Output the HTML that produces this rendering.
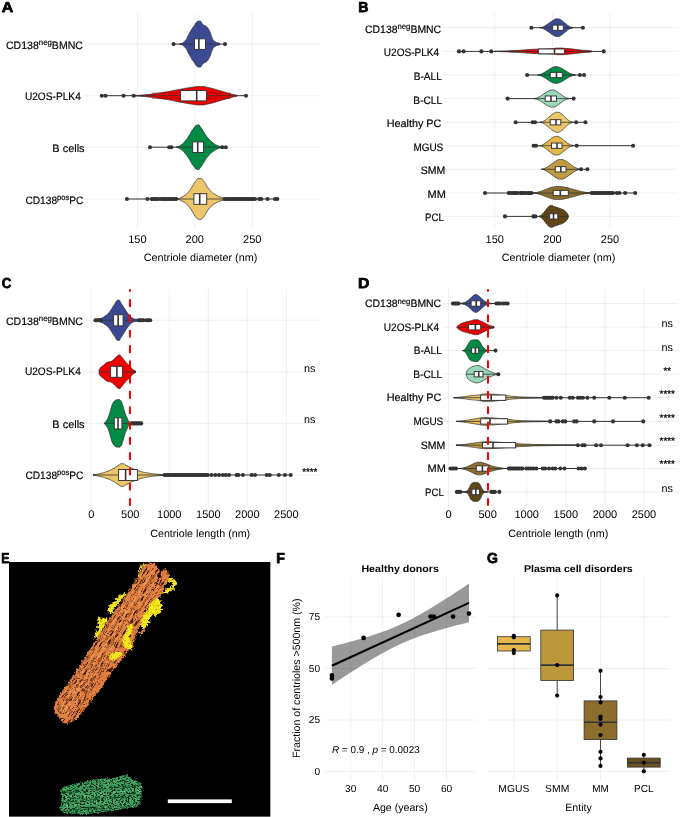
<!DOCTYPE html>
<html><head><meta charset="utf-8"><title>Figure</title>
<style>
html,body{margin:0;padding:0;background:#fff;}
body{width:685px;height:817px;overflow:hidden;font-family:"Liberation Sans",sans-serif;}
svg{display:block;position:absolute;left:0;top:0;}
svg text{font-family:"Liberation Sans",sans-serif;}
</style></head><body>
<svg width="685" height="817" viewBox="0 0 685 817" style="opacity:0.999" text-rendering="geometricPrecision">
<rect x="0" y="0" width="685" height="817" fill="#ffffff"/>

<g id="panelA">
<text transform="translate(1.65 11.80) scale(1.1053 1)" font-size="14.40px" font-weight="bold" fill="#000" stroke="#000" stroke-width="0.75" stroke-linejoin="round">A</text>
<line x1="137.40" y1="13.20" x2="137.40" y2="228.00" stroke="#ebebeb" stroke-width="0.80" />
<line x1="194.80" y1="13.20" x2="194.80" y2="228.00" stroke="#ebebeb" stroke-width="0.80" />
<line x1="252.30" y1="13.20" x2="252.30" y2="228.00" stroke="#ebebeb" stroke-width="0.80" />
<line x1="83.50" y1="44.10" x2="320.80" y2="44.10" stroke="#ebebeb" stroke-width="0.80"/>
<line x1="83.50" y1="95.70" x2="320.80" y2="95.70" stroke="#ebebeb" stroke-width="0.80"/>
<line x1="83.50" y1="147.20" x2="320.80" y2="147.20" stroke="#ebebeb" stroke-width="0.80"/>
<line x1="83.50" y1="199.00" x2="320.80" y2="199.00" stroke="#ebebeb" stroke-width="0.80"/>
<text transform="translate(5.91 48.80) scale(0.9788 1)" font-size="10.80px" font-weight="normal" fill="#000" stroke="#000" stroke-width="0.18">CD138<tspan dy="-3.56" font-size="7.99px">neg</tspan><tspan dy="3.56">BMNC</tspan></text>
<text transform="translate(24.89 100.40) scale(0.9408 1)" font-size="10.80px" font-weight="normal" fill="#000" stroke="#000" stroke-width="0.18">U2OS-PLK4</text>
<text transform="translate(52.28 151.90) scale(1.0164 1)" font-size="10.80px" font-weight="normal" fill="#000" stroke="#000" stroke-width="0.18">B cells</text>
<text transform="translate(25.43 203.70) scale(0.9421 1)" font-size="10.80px" font-weight="normal" fill="#000" stroke="#000" stroke-width="0.18">CD138<tspan dy="-3.56" font-size="7.99px">pos</tspan><tspan dy="3.56">PC</tspan></text>
<text x="137.40" y="242.60" font-size="11.00px" text-anchor="middle" font-weight="normal" fill="#000"  style="">150</text>
<text x="194.80" y="242.60" font-size="11.00px" text-anchor="middle" font-weight="normal" fill="#000"  style="">200</text>
<text x="252.30" y="242.60" font-size="11.00px" text-anchor="middle" font-weight="normal" fill="#000"  style="">250</text>
<text x="200.50" y="261.00" font-size="10.60px" text-anchor="middle" font-weight="normal" fill="#000" textLength="113.50" lengthAdjust="spacingAndGlyphs"  style="">Centriole diameter (nm)</text>
<line x1="173.50" y1="44.10" x2="225.00" y2="44.10" stroke="#333333" stroke-width="1.00"/>
<path d="M179.60 44.10 C181.37 43.07 181.83 44.23 184.90 41.00 C187.97 37.77 185.90 39.20 188.80 34.40 C191.70 29.60 190.23 31.03 193.60 26.60 C196.97 22.17 195.67 21.70 198.90 21.10 C202.13 20.50 200.67 22.83 203.30 24.80 C205.93 26.77 204.63 24.80 206.80 27.00 C208.97 29.20 208.07 27.90 209.80 31.40 C211.53 34.90 210.37 34.13 212.00 37.50 C213.63 40.87 212.07 39.30 214.70 41.50 C217.33 43.70 219.90 42.37 219.90 44.10 C219.90 45.83 217.33 44.50 214.70 46.70 C212.07 48.90 213.63 47.33 212.00 50.70 C210.37 54.07 211.53 53.30 209.80 56.80 C208.07 60.30 208.97 59.00 206.80 61.20 C204.63 63.40 205.93 61.43 203.30 63.40 C200.67 65.37 202.13 67.70 198.90 67.10 C195.67 66.50 196.97 66.03 193.60 61.60 C190.23 57.17 191.70 58.60 188.80 53.80 C185.90 49.00 187.97 50.43 184.90 47.20 C181.83 43.97 181.37 45.13 179.60 44.10 Z" fill="#3B4992" stroke="#2b2b2b" stroke-width="0.70" stroke-linejoin="round"/>
<line x1="179.60" y1="44.10" x2="219.90" y2="44.10" stroke="#333333" stroke-width="0.80"/>
<circle cx="173.50" cy="44.10" r="2.05" fill="#333333"/>
<circle cx="225.00" cy="44.10" r="2.05" fill="#333333"/>
<rect x="194.50" y="38.80" width="11.00" height="10.60" fill="#fff" stroke="#333333" stroke-width="0.95"/>
<line x1="198.90" y1="38.80" x2="198.90" y2="49.40" stroke="#333333" stroke-width="1.60"/>
<line x1="101.80" y1="95.70" x2="246.00" y2="95.70" stroke="#333333" stroke-width="1.00"/>
<path d="M133.00 95.70 C138.00 95.30 137.67 95.63 148.00 94.50 C158.33 93.37 153.67 93.97 164.00 92.30 C174.33 90.63 170.00 91.13 179.00 89.50 C188.00 87.87 183.83 88.40 191.00 87.40 C198.17 86.40 194.50 86.40 200.50 86.50 C206.50 86.60 202.50 86.30 209.00 87.70 C215.50 89.10 213.00 88.70 220.00 90.70 C227.00 92.70 224.33 92.03 230.00 93.70 C235.67 95.37 237.00 94.37 237.00 95.70 C237.00 97.03 235.67 96.03 230.00 97.70 C224.33 99.37 227.00 98.70 220.00 100.70 C213.00 102.70 215.50 102.30 209.00 103.70 C202.50 105.10 206.50 104.80 200.50 104.90 C194.50 105.00 198.17 105.00 191.00 104.00 C183.83 103.00 188.00 103.53 179.00 101.90 C170.00 100.27 174.33 100.77 164.00 99.10 C153.67 97.43 158.33 98.03 148.00 96.90 C137.67 95.77 138.00 96.10 133.00 95.70 Z" fill="#EE0000" stroke="#2b2b2b" stroke-width="0.70" stroke-linejoin="round"/>
<line x1="133.00" y1="95.70" x2="237.00" y2="95.70" stroke="#333333" stroke-width="0.80"/>
<line x1="152.00" y1="93.10" x2="231.00" y2="93.10" stroke="#8a0000" stroke-width="0.50"/>
<line x1="152.00" y1="98.30" x2="231.00" y2="98.30" stroke="#8a0000" stroke-width="0.50"/>
<circle cx="101.80" cy="95.70" r="2.05" fill="#333333"/>
<circle cx="105.50" cy="95.70" r="2.05" fill="#333333"/>
<circle cx="123.60" cy="95.70" r="2.05" fill="#333333"/>
<circle cx="133.70" cy="95.70" r="2.05" fill="#333333"/>
<circle cx="246.00" cy="95.70" r="2.05" fill="#333333"/>
<rect x="180.60" y="90.50" width="25.90" height="10.40" fill="#fff" stroke="#333333" stroke-width="0.95"/>
<line x1="196.70" y1="90.50" x2="196.70" y2="100.90" stroke="#333333" stroke-width="1.60"/>
<line x1="150.00" y1="147.20" x2="225.80" y2="147.20" stroke="#333333" stroke-width="1.00"/>
<path d="M176.30 147.20 C177.87 146.47 178.10 147.00 181.00 145.00 C183.90 143.00 182.33 144.30 185.00 141.20 C187.67 138.10 186.33 139.70 189.00 135.70 C191.67 131.70 190.17 132.77 193.00 129.20 C195.83 125.63 194.83 125.50 197.50 125.00 C200.17 124.50 198.67 124.97 201.00 127.70 C203.33 130.43 202.00 129.57 204.50 133.20 C207.00 136.83 205.67 135.40 208.50 138.60 C211.33 141.80 210.17 140.53 213.00 142.80 C215.83 145.07 214.17 143.93 217.00 145.40 C219.83 146.87 221.50 146.00 221.50 147.20 C221.50 148.40 219.83 147.53 217.00 149.00 C214.17 150.47 215.83 149.33 213.00 151.60 C210.17 153.87 211.33 152.60 208.50 155.80 C205.67 159.00 207.00 157.57 204.50 161.20 C202.00 164.83 203.33 163.97 201.00 166.70 C198.67 169.43 200.17 169.90 197.50 169.40 C194.83 168.90 195.83 168.77 193.00 165.20 C190.17 161.63 191.67 162.70 189.00 158.70 C186.33 154.70 187.67 156.30 185.00 153.20 C182.33 150.10 183.90 151.40 181.00 149.40 C178.10 147.40 177.87 147.93 176.30 147.20 Z" fill="#008B45" stroke="#2b2b2b" stroke-width="0.70" stroke-linejoin="round"/>
<line x1="176.30" y1="147.20" x2="221.50" y2="147.20" stroke="#333333" stroke-width="0.80"/>
<circle cx="150.00" cy="147.20" r="2.05" fill="#333333"/>
<circle cx="169.20" cy="147.20" r="2.05" fill="#333333"/>
<circle cx="171.40" cy="147.20" r="2.05" fill="#333333"/>
<circle cx="222.30" cy="147.20" r="2.05" fill="#333333"/>
<circle cx="225.80" cy="147.20" r="2.05" fill="#333333"/>
<rect x="192.70" y="141.90" width="10.80" height="10.60" fill="#fff" stroke="#333333" stroke-width="0.95"/>
<line x1="197.70" y1="141.90" x2="197.70" y2="152.50" stroke="#333333" stroke-width="1.60"/>
<line x1="126.90" y1="199.00" x2="277.30" y2="199.00" stroke="#333333" stroke-width="1.00"/>
<path d="M177.60 199.00 C179.40 198.13 179.70 198.40 183.00 196.40 C186.30 194.40 184.67 195.87 187.50 193.00 C190.33 190.13 188.83 191.67 191.50 187.80 C194.17 183.93 192.83 184.47 195.50 181.40 C198.17 178.33 196.83 178.73 199.50 178.60 C202.17 178.47 201.00 178.40 203.50 181.00 C206.00 183.60 204.50 182.93 207.00 186.40 C209.50 189.87 208.00 188.53 211.00 191.40 C214.00 194.27 212.67 193.03 216.00 195.00 C219.33 196.97 217.90 195.97 221.00 197.30 C224.10 198.63 225.30 197.87 225.30 199.00 C225.30 200.13 224.10 199.37 221.00 200.70 C217.90 202.03 219.33 201.03 216.00 203.00 C212.67 204.97 214.00 203.73 211.00 206.60 C208.00 209.47 209.50 208.13 207.00 211.60 C204.50 215.07 206.00 214.40 203.50 217.00 C201.00 219.60 202.17 219.53 199.50 219.40 C196.83 219.27 198.17 219.67 195.50 216.60 C192.83 213.53 194.17 214.07 191.50 210.20 C188.83 206.33 190.33 207.87 187.50 205.00 C184.67 202.13 186.30 203.60 183.00 201.60 C179.70 199.60 179.40 199.87 177.60 199.00 Z" fill="#EDC669" stroke="#2b2b2b" stroke-width="0.70" stroke-linejoin="round"/>
<line x1="177.60" y1="199.00" x2="225.30" y2="199.00" stroke="#333333" stroke-width="0.80"/>
<circle cx="126.90" cy="199.00" r="2.05" fill="#333333"/>
<circle cx="147.40" cy="199.00" r="2.05" fill="#333333"/>
<circle cx="151.60" cy="199.00" r="2.05" fill="#333333"/>
<circle cx="153.30" cy="199.00" r="2.05" fill="#333333"/>
<circle cx="155.00" cy="199.00" r="2.05" fill="#333333"/>
<circle cx="156.70" cy="199.00" r="2.05" fill="#333333"/>
<circle cx="158.40" cy="199.00" r="2.05" fill="#333333"/>
<circle cx="161.20" cy="199.00" r="2.05" fill="#333333"/>
<circle cx="162.88" cy="199.00" r="2.05" fill="#333333"/>
<circle cx="164.56" cy="199.00" r="2.05" fill="#333333"/>
<circle cx="166.23" cy="199.00" r="2.05" fill="#333333"/>
<circle cx="167.91" cy="199.00" r="2.05" fill="#333333"/>
<circle cx="169.59" cy="199.00" r="2.05" fill="#333333"/>
<circle cx="171.27" cy="199.00" r="2.05" fill="#333333"/>
<circle cx="172.94" cy="199.00" r="2.05" fill="#333333"/>
<circle cx="174.62" cy="199.00" r="2.05" fill="#333333"/>
<circle cx="176.30" cy="199.00" r="2.05" fill="#333333"/>
<circle cx="224.50" cy="199.00" r="2.05" fill="#333333"/>
<circle cx="226.11" cy="199.00" r="2.05" fill="#333333"/>
<circle cx="227.71" cy="199.00" r="2.05" fill="#333333"/>
<circle cx="229.32" cy="199.00" r="2.05" fill="#333333"/>
<circle cx="230.92" cy="199.00" r="2.05" fill="#333333"/>
<circle cx="232.53" cy="199.00" r="2.05" fill="#333333"/>
<circle cx="234.13" cy="199.00" r="2.05" fill="#333333"/>
<circle cx="235.74" cy="199.00" r="2.05" fill="#333333"/>
<circle cx="237.34" cy="199.00" r="2.05" fill="#333333"/>
<circle cx="238.95" cy="199.00" r="2.05" fill="#333333"/>
<circle cx="240.55" cy="199.00" r="2.05" fill="#333333"/>
<circle cx="242.16" cy="199.00" r="2.05" fill="#333333"/>
<circle cx="243.76" cy="199.00" r="2.05" fill="#333333"/>
<circle cx="245.37" cy="199.00" r="2.05" fill="#333333"/>
<circle cx="246.97" cy="199.00" r="2.05" fill="#333333"/>
<circle cx="248.58" cy="199.00" r="2.05" fill="#333333"/>
<circle cx="250.18" cy="199.00" r="2.05" fill="#333333"/>
<circle cx="251.79" cy="199.00" r="2.05" fill="#333333"/>
<circle cx="253.39" cy="199.00" r="2.05" fill="#333333"/>
<circle cx="255.00" cy="199.00" r="2.05" fill="#333333"/>
<circle cx="259.20" cy="199.00" r="2.05" fill="#333333"/>
<circle cx="261.30" cy="199.00" r="2.05" fill="#333333"/>
<circle cx="267.50" cy="199.00" r="2.05" fill="#333333"/>
<circle cx="275.00" cy="199.00" r="2.05" fill="#333333"/>
<circle cx="277.30" cy="199.00" r="2.05" fill="#333333"/>
<rect x="193.90" y="193.70" width="12.80" height="10.60" fill="#fff" stroke="#333333" stroke-width="0.95"/>
<line x1="199.70" y1="193.70" x2="199.70" y2="204.30" stroke="#333333" stroke-width="1.60"/>
</g>
<g id="panelB">
<text transform="translate(358.22 11.90) scale(0.9829 1)" font-size="14.40px" font-weight="bold" fill="#000" stroke="#000" stroke-width="0.75" stroke-linejoin="round">B</text>
<line x1="494.80" y1="13.80" x2="494.80" y2="228.00" stroke="#ebebeb" stroke-width="0.80" />
<line x1="552.50" y1="13.80" x2="552.50" y2="228.00" stroke="#ebebeb" stroke-width="0.80" />
<line x1="610.00" y1="13.80" x2="610.00" y2="228.00" stroke="#ebebeb" stroke-width="0.80" />
<line x1="443.00" y1="27.70" x2="678.40" y2="27.70" stroke="#ebebeb" stroke-width="0.80"/>
<line x1="443.00" y1="51.40" x2="678.40" y2="51.40" stroke="#ebebeb" stroke-width="0.80"/>
<line x1="443.00" y1="75.00" x2="678.40" y2="75.00" stroke="#ebebeb" stroke-width="0.80"/>
<line x1="443.00" y1="98.60" x2="678.40" y2="98.60" stroke="#ebebeb" stroke-width="0.80"/>
<line x1="443.00" y1="122.30" x2="678.40" y2="122.30" stroke="#ebebeb" stroke-width="0.80"/>
<line x1="443.00" y1="145.70" x2="678.40" y2="145.70" stroke="#ebebeb" stroke-width="0.80"/>
<line x1="443.00" y1="169.30" x2="678.40" y2="169.30" stroke="#ebebeb" stroke-width="0.80"/>
<line x1="443.00" y1="193.00" x2="678.40" y2="193.00" stroke="#ebebeb" stroke-width="0.80"/>
<line x1="443.00" y1="216.40" x2="678.40" y2="216.40" stroke="#ebebeb" stroke-width="0.80"/>
<text transform="translate(365.02 32.70) scale(0.9672 1)" font-size="10.80px" font-weight="normal" fill="#000" stroke="#000" stroke-width="0.18">CD138<tspan dy="-3.56" font-size="7.99px">neg</tspan><tspan dy="3.56">BMNC</tspan></text>
<text transform="translate(383.80 56.40) scale(0.9322 1)" font-size="10.80px" font-weight="normal" fill="#000" stroke="#000" stroke-width="0.18">U2OS-PLK4</text>
<text transform="translate(413.77 80.00) scale(0.9322 1)" font-size="10.80px" font-weight="normal" fill="#000" stroke="#000" stroke-width="0.18">B-ALL</text>
<text transform="translate(413.36 103.60) scale(0.9402 1)" font-size="10.80px" font-weight="normal" fill="#000" stroke="#000" stroke-width="0.18">B-CLL</text>
<text transform="translate(386.70 127.30) scale(1.0009 1)" font-size="10.80px" font-weight="normal" fill="#000" stroke="#000" stroke-width="0.18">Healthy PC</text>
<text transform="translate(413.38 150.70) scale(0.9226 1)" font-size="10.80px" font-weight="normal" fill="#000" stroke="#000" stroke-width="0.18">MGUS</text>
<text transform="translate(420.81 174.30) scale(0.9726 1)" font-size="10.80px" font-weight="normal" fill="#000" stroke="#000" stroke-width="0.18">SMM</text>
<text transform="translate(427.58 198.00) scale(1.0154 1)" font-size="10.80px" font-weight="normal" fill="#000" stroke="#000" stroke-width="0.18">MM</text>
<text transform="translate(425.11 221.40) scale(0.8861 1)" font-size="10.80px" font-weight="normal" fill="#000" stroke="#000" stroke-width="0.18">PCL</text>
<text x="494.80" y="242.60" font-size="11.00px" text-anchor="middle" font-weight="normal" fill="#000"  style="">150</text>
<text x="552.50" y="242.60" font-size="11.00px" text-anchor="middle" font-weight="normal" fill="#000"  style="">200</text>
<text x="610.00" y="242.60" font-size="11.00px" text-anchor="middle" font-weight="normal" fill="#000"  style="">250</text>
<text x="558.50" y="261.00" font-size="10.60px" text-anchor="middle" font-weight="normal" fill="#000" textLength="113.50" lengthAdjust="spacingAndGlyphs"  style="">Centriole diameter (nm)</text>
<line x1="531.40" y1="27.70" x2="582.90" y2="27.70" stroke="#333333" stroke-width="1.00"/>
<path d="M540.00 27.70 C541.28 27.29 540.93 27.93 543.85 26.47 C546.77 25.00 545.48 25.47 548.75 23.30 C552.02 21.13 550.73 21.42 553.65 19.96 C556.57 18.49 555.09 18.90 557.50 18.90 C559.91 18.90 558.32 18.49 560.87 19.96 C563.42 21.42 562.29 21.13 565.15 23.30 C568.01 25.47 566.88 25.00 569.43 26.47 C571.98 27.93 572.80 26.88 572.80 27.70 C572.80 28.52 571.98 27.47 569.43 28.93 C566.88 30.40 568.01 29.93 565.15 32.10 C562.29 34.27 563.42 33.98 560.87 35.44 C558.32 36.91 559.91 36.50 557.50 36.50 C555.09 36.50 556.57 36.91 553.65 35.44 C550.73 33.98 552.02 34.27 548.75 32.10 C545.48 29.93 546.77 30.40 543.85 28.93 C540.93 27.47 541.28 28.11 540.00 27.70 Z" fill="#3B4992" stroke="#2b2b2b" stroke-width="0.70" stroke-linejoin="round"/>
<line x1="540.00" y1="27.70" x2="572.80" y2="27.70" stroke="#333333" stroke-width="0.80"/>
<circle cx="531.40" cy="27.70" r="2.05" fill="#333333"/>
<circle cx="582.90" cy="27.70" r="2.05" fill="#333333"/>
<rect x="552.70" y="25.05" width="10.60" height="5.30" fill="#fff" stroke="#333333" stroke-width="0.95"/>
<line x1="557.80" y1="25.05" x2="557.80" y2="30.35" stroke="#333333" stroke-width="1.60"/>
<line x1="459.00" y1="51.40" x2="603.70" y2="51.40" stroke="#333333" stroke-width="1.00"/>
<path d="M495.00 51.40 C501.67 51.10 501.67 51.23 515.00 50.50 C528.33 49.77 523.33 49.78 535.00 49.20 C546.67 48.62 542.33 49.12 550.00 48.75 C557.67 48.38 552.00 48.15 558.00 48.10 C564.00 48.05 560.67 48.00 568.00 48.60 C575.33 49.20 572.00 48.97 580.00 49.90 C588.00 50.83 592.00 50.40 592.00 51.40 C592.00 52.40 588.00 51.97 580.00 52.90 C572.00 53.83 575.33 53.60 568.00 54.20 C560.67 54.80 564.00 54.75 558.00 54.70 C552.00 54.65 557.67 54.42 550.00 54.05 C542.33 53.68 546.67 54.18 535.00 53.60 C523.33 53.02 528.33 53.03 515.00 52.30 C501.67 51.57 501.67 51.70 495.00 51.40 Z" fill="#EE0000" stroke="#2b2b2b" stroke-width="0.70" stroke-linejoin="round"/>
<line x1="495.00" y1="51.40" x2="592.00" y2="51.40" stroke="#333333" stroke-width="0.80"/>
<circle cx="459.00" cy="51.40" r="2.05" fill="#333333"/>
<circle cx="463.60" cy="51.40" r="2.05" fill="#333333"/>
<circle cx="481.40" cy="51.40" r="2.05" fill="#333333"/>
<circle cx="491.20" cy="51.40" r="2.05" fill="#333333"/>
<circle cx="603.70" cy="51.40" r="2.05" fill="#333333"/>
<rect x="538.40" y="49.00" width="26.10" height="4.80" fill="#fff" stroke="#333333" stroke-width="0.95"/>
<line x1="554.50" y1="49.00" x2="554.50" y2="53.80" stroke="#333333" stroke-width="1.60"/>
<line x1="527.10" y1="75.00" x2="584.10" y2="75.00" stroke="#333333" stroke-width="1.00"/>
<path d="M537.70 75.00 C539.04 74.61 538.68 75.22 541.73 73.84 C544.78 72.45 543.43 72.90 546.85 70.85 C550.27 68.80 548.92 69.08 551.97 67.70 C555.02 66.31 553.24 66.70 556.00 66.70 C558.76 66.70 557.03 66.31 560.27 67.70 C563.50 69.08 562.08 68.80 565.70 70.85 C569.32 72.90 567.90 72.45 571.13 73.84 C574.37 75.22 575.40 74.23 575.40 75.00 C575.40 75.77 574.37 74.78 571.13 76.16 C567.90 77.55 569.32 77.10 565.70 79.15 C562.08 81.20 563.50 80.92 560.27 82.30 C557.03 83.69 558.76 83.30 556.00 83.30 C553.24 83.30 555.02 83.69 551.97 82.30 C548.92 80.92 550.27 81.20 546.85 79.15 C543.43 77.10 544.78 77.55 541.73 76.16 C538.68 74.78 539.04 75.39 537.70 75.00 Z" fill="#008B45" stroke="#2b2b2b" stroke-width="0.70" stroke-linejoin="round"/>
<line x1="537.70" y1="75.00" x2="575.40" y2="75.00" stroke="#333333" stroke-width="0.80"/>
<circle cx="527.10" cy="75.00" r="2.05" fill="#333333"/>
<circle cx="579.90" cy="75.00" r="2.05" fill="#333333"/>
<circle cx="584.10" cy="75.00" r="2.05" fill="#333333"/>
<rect x="550.20" y="72.35" width="12.10" height="5.30" fill="#fff" stroke="#333333" stroke-width="0.95"/>
<line x1="556.50" y1="72.35" x2="556.50" y2="77.65" stroke="#333333" stroke-width="1.60"/>
<line x1="507.60" y1="98.60" x2="574.10" y2="98.60" stroke="#333333" stroke-width="1.00"/>
<path d="M533.90 98.60 C535.26 98.20 534.89 98.83 537.99 97.41 C541.09 95.99 539.73 96.45 543.20 94.35 C546.67 92.25 545.31 92.54 548.41 91.12 C551.51 89.70 549.92 90.10 552.50 90.10 C555.08 90.10 553.39 89.70 556.15 91.12 C558.92 92.54 557.70 92.25 560.80 94.35 C563.90 96.45 562.68 95.99 565.45 97.41 C568.21 98.83 569.10 97.81 569.10 98.60 C569.10 99.39 568.21 98.37 565.45 99.79 C562.68 101.21 563.90 100.75 560.80 102.85 C557.70 104.95 558.92 104.66 556.15 106.08 C553.39 107.50 555.08 107.10 552.50 107.10 C549.92 107.10 551.51 107.50 548.41 106.08 C545.31 104.66 546.67 104.95 543.20 102.85 C539.73 100.75 541.09 101.21 537.99 99.79 C534.89 98.37 535.26 99.00 533.90 98.60 Z" fill="#99D8B8" stroke="#2b2b2b" stroke-width="0.70" stroke-linejoin="round"/>
<line x1="533.90" y1="98.60" x2="569.10" y2="98.60" stroke="#333333" stroke-width="0.80"/>
<circle cx="507.60" cy="98.60" r="2.05" fill="#333333"/>
<circle cx="573.60" cy="98.60" r="2.05" fill="#333333"/>
<rect x="545.20" y="95.95" width="11.30" height="5.30" fill="#fff" stroke="#333333" stroke-width="0.95"/>
<line x1="551.00" y1="95.95" x2="551.00" y2="101.25" stroke="#333333" stroke-width="1.60"/>
<line x1="515.60" y1="122.30" x2="585.40" y2="122.30" stroke="#333333" stroke-width="1.00"/>
<path d="M540.20 122.30 C541.47 121.83 541.12 122.57 544.01 120.90 C546.89 119.23 545.62 119.77 548.85 117.30 C552.08 114.83 550.81 115.17 553.69 113.50 C556.58 111.83 555.11 112.30 557.50 112.30 C559.89 112.30 558.32 111.83 560.87 113.50 C563.42 115.17 562.29 114.83 565.15 117.30 C568.01 119.77 566.88 119.23 569.43 120.90 C571.98 122.57 572.80 121.37 572.80 122.30 C572.80 123.23 571.98 122.03 569.43 123.70 C566.88 125.37 568.01 124.83 565.15 127.30 C562.29 129.77 563.42 129.43 560.87 131.10 C558.32 132.77 559.89 132.30 557.50 132.30 C555.11 132.30 556.58 132.77 553.69 131.10 C550.81 129.43 552.08 129.77 548.85 127.30 C545.62 124.83 546.89 125.37 544.01 123.70 C541.12 122.03 541.47 122.77 540.20 122.30 Z" fill="#EDC669" stroke="#2b2b2b" stroke-width="0.70" stroke-linejoin="round"/>
<line x1="540.20" y1="122.30" x2="572.80" y2="122.30" stroke="#333333" stroke-width="0.80"/>
<circle cx="515.60" cy="122.30" r="2.05" fill="#333333"/>
<circle cx="532.60" cy="122.30" r="2.05" fill="#333333"/>
<circle cx="535.00" cy="122.30" r="2.05" fill="#333333"/>
<circle cx="576.10" cy="122.30" r="2.05" fill="#333333"/>
<circle cx="585.40" cy="122.30" r="2.05" fill="#333333"/>
<rect x="550.20" y="119.65" width="10.60" height="5.30" fill="#fff" stroke="#333333" stroke-width="0.95"/>
<line x1="556.00" y1="119.65" x2="556.00" y2="124.95" stroke="#333333" stroke-width="1.60"/>
<line x1="533.60" y1="145.70" x2="633.10" y2="145.70" stroke="#333333" stroke-width="1.00"/>
<path d="M539.70 145.70 C540.93 145.27 540.60 145.95 543.40 144.40 C546.20 142.85 544.96 143.34 548.10 141.05 C551.24 138.76 550.00 139.07 552.80 137.52 C555.60 135.97 554.04 136.40 556.50 136.40 C558.96 136.40 557.40 135.97 560.20 137.52 C563.00 139.07 561.76 138.76 564.90 141.05 C568.04 143.34 566.80 142.85 569.60 144.40 C572.40 145.95 573.30 144.83 573.30 145.70 C573.30 146.57 572.40 145.45 569.60 147.00 C566.80 148.55 568.04 148.06 564.90 150.35 C561.76 152.64 563.00 152.33 560.20 153.88 C557.40 155.43 558.96 155.00 556.50 155.00 C554.04 155.00 555.60 155.43 552.80 153.88 C550.00 152.33 551.24 152.64 548.10 150.35 C544.96 148.06 546.20 148.55 543.40 147.00 C540.60 145.45 540.93 146.13 539.70 145.70 Z" fill="#E6B84B" stroke="#2b2b2b" stroke-width="0.70" stroke-linejoin="round"/>
<line x1="539.70" y1="145.70" x2="573.30" y2="145.70" stroke="#333333" stroke-width="0.80"/>
<circle cx="533.60" cy="145.70" r="2.05" fill="#333333"/>
<circle cx="536.00" cy="145.70" r="2.05" fill="#333333"/>
<circle cx="576.60" cy="145.70" r="2.05" fill="#333333"/>
<circle cx="633.10" cy="145.70" r="2.05" fill="#333333"/>
<rect x="551.50" y="143.05" width="10.50" height="5.30" fill="#fff" stroke="#333333" stroke-width="0.95"/>
<line x1="557.00" y1="143.05" x2="557.00" y2="148.35" stroke="#333333" stroke-width="1.60"/>
<line x1="541.40" y1="169.30" x2="587.40" y2="169.30" stroke="#333333" stroke-width="1.00"/>
<path d="M541.40 169.30 C542.82 168.84 542.43 169.56 545.67 167.93 C548.90 166.29 547.48 166.82 551.10 164.40 C554.72 161.98 553.30 162.31 556.53 160.68 C559.77 159.04 557.94 159.50 560.80 159.50 C563.66 159.50 561.85 159.04 565.11 160.68 C568.38 162.31 566.94 161.98 570.60 164.40 C574.26 166.82 572.82 166.29 576.09 167.93 C579.35 169.56 580.40 168.39 580.40 169.30 C580.40 170.21 579.35 169.04 576.09 170.67 C572.82 172.31 574.26 171.78 570.60 174.20 C566.94 176.62 568.38 176.29 565.11 177.92 C561.85 179.56 563.66 179.10 560.80 179.10 C557.94 179.10 559.77 179.56 556.53 177.92 C553.30 176.29 554.72 176.62 551.10 174.20 C547.48 171.78 548.90 172.31 545.67 170.67 C542.43 169.04 542.82 169.76 541.40 169.30 Z" fill="#BF9C41" stroke="#2b2b2b" stroke-width="0.70" stroke-linejoin="round"/>
<line x1="541.40" y1="169.30" x2="580.40" y2="169.30" stroke="#333333" stroke-width="0.80"/>
<circle cx="581.10" cy="169.30" r="2.05" fill="#333333"/>
<circle cx="587.40" cy="169.30" r="2.05" fill="#333333"/>
<rect x="555.30" y="166.65" width="10.70" height="5.30" fill="#fff" stroke="#333333" stroke-width="0.95"/>
<line x1="560.80" y1="166.65" x2="560.80" y2="171.95" stroke="#333333" stroke-width="1.60"/>
<line x1="485.00" y1="193.00" x2="635.20" y2="193.00" stroke="#333333" stroke-width="1.00"/>
<path d="M532.60 193.00 C534.43 192.70 533.93 193.17 538.08 192.09 C542.23 191.01 540.40 191.35 545.05 189.75 C549.70 188.15 547.87 188.36 552.02 187.28 C556.17 186.20 553.17 186.50 557.50 186.50 C561.83 186.50 559.32 186.20 565.02 187.28 C570.72 188.36 568.22 188.15 574.60 189.75 C580.98 191.35 578.48 191.01 584.18 192.09 C589.88 193.17 591.70 192.39 591.70 193.00 C591.70 193.61 589.88 192.83 584.18 193.91 C578.48 194.99 580.98 194.65 574.60 196.25 C568.22 197.85 570.72 197.64 565.02 198.72 C559.32 199.80 561.83 199.50 557.50 199.50 C553.17 199.50 556.17 199.80 552.02 198.72 C547.87 197.64 549.70 197.85 545.05 196.25 C540.40 194.65 542.23 194.99 538.08 193.91 C533.93 192.83 534.43 193.30 532.60 193.00 Z" fill="#8E6F2D" stroke="#2b2b2b" stroke-width="0.70" stroke-linejoin="round"/>
<line x1="532.60" y1="193.00" x2="591.70" y2="193.00" stroke="#333333" stroke-width="0.80"/>
<circle cx="485.00" cy="193.00" r="2.05" fill="#333333"/>
<circle cx="508.80" cy="193.00" r="2.05" fill="#333333"/>
<circle cx="510.54" cy="193.00" r="2.05" fill="#333333"/>
<circle cx="512.28" cy="193.00" r="2.05" fill="#333333"/>
<circle cx="514.02" cy="193.00" r="2.05" fill="#333333"/>
<circle cx="515.76" cy="193.00" r="2.05" fill="#333333"/>
<circle cx="517.50" cy="193.00" r="2.05" fill="#333333"/>
<circle cx="520.40" cy="193.00" r="2.05" fill="#333333"/>
<circle cx="521.87" cy="193.00" r="2.05" fill="#333333"/>
<circle cx="523.33" cy="193.00" r="2.05" fill="#333333"/>
<circle cx="524.80" cy="193.00" r="2.05" fill="#333333"/>
<circle cx="527.20" cy="193.00" r="2.05" fill="#333333"/>
<circle cx="528.60" cy="193.00" r="2.05" fill="#333333"/>
<circle cx="530.00" cy="193.00" r="2.05" fill="#333333"/>
<circle cx="531.40" cy="193.00" r="2.05" fill="#333333"/>
<circle cx="591.70" cy="193.00" r="2.05" fill="#333333"/>
<circle cx="593.34" cy="193.00" r="2.05" fill="#333333"/>
<circle cx="594.98" cy="193.00" r="2.05" fill="#333333"/>
<circle cx="596.62" cy="193.00" r="2.05" fill="#333333"/>
<circle cx="598.25" cy="193.00" r="2.05" fill="#333333"/>
<circle cx="599.89" cy="193.00" r="2.05" fill="#333333"/>
<circle cx="601.53" cy="193.00" r="2.05" fill="#333333"/>
<circle cx="603.17" cy="193.00" r="2.05" fill="#333333"/>
<circle cx="604.81" cy="193.00" r="2.05" fill="#333333"/>
<circle cx="606.45" cy="193.00" r="2.05" fill="#333333"/>
<circle cx="608.08" cy="193.00" r="2.05" fill="#333333"/>
<circle cx="609.72" cy="193.00" r="2.05" fill="#333333"/>
<circle cx="611.36" cy="193.00" r="2.05" fill="#333333"/>
<circle cx="613.00" cy="193.00" r="2.05" fill="#333333"/>
<circle cx="616.80" cy="193.00" r="2.05" fill="#333333"/>
<circle cx="619.30" cy="193.00" r="2.05" fill="#333333"/>
<circle cx="625.10" cy="193.00" r="2.05" fill="#333333"/>
<circle cx="635.20" cy="193.00" r="2.05" fill="#333333"/>
<rect x="553.20" y="190.35" width="15.10" height="5.30" fill="#fff" stroke="#333333" stroke-width="0.95"/>
<line x1="560.30" y1="190.35" x2="560.30" y2="195.65" stroke="#333333" stroke-width="1.60"/>
<line x1="505.00" y1="216.40" x2="568.30" y2="216.40" stroke="#333333" stroke-width="1.00"/>
<path d="M538.90 216.40 C539.93 215.73 539.97 216.23 542.00 214.40 C544.03 212.57 543.00 213.23 545.00 210.90 C547.00 208.57 546.00 209.17 548.00 207.40 C550.00 205.63 548.83 205.87 551.00 205.60 C553.17 205.33 552.17 205.87 554.50 206.60 C556.83 207.33 555.50 206.93 558.00 207.80 C560.50 208.67 559.50 208.00 562.00 209.20 C564.50 210.40 563.63 209.80 565.50 211.40 C567.37 213.00 566.67 212.33 567.60 214.00 C568.53 215.67 568.30 214.80 568.30 216.40 C568.30 218.00 568.53 217.13 567.60 218.80 C566.67 220.47 567.37 219.80 565.50 221.40 C563.63 223.00 564.50 222.40 562.00 223.60 C559.50 224.80 560.50 224.13 558.00 225.00 C555.50 225.87 556.83 225.47 554.50 226.20 C552.17 226.93 553.17 227.47 551.00 227.20 C548.83 226.93 550.00 227.17 548.00 225.40 C546.00 223.63 547.00 224.23 545.00 221.90 C543.00 219.57 544.03 220.23 542.00 218.40 C539.97 216.57 539.93 217.07 538.90 216.40 Z" fill="#5F4618" stroke="#2b2b2b" stroke-width="0.70" stroke-linejoin="round"/>
<line x1="538.90" y1="216.40" x2="568.30" y2="216.40" stroke="#333333" stroke-width="0.80"/>
<circle cx="505.00" cy="216.40" r="2.05" fill="#333333"/>
<circle cx="533.40" cy="216.40" r="2.05" fill="#333333"/>
<circle cx="535.40" cy="216.40" r="2.05" fill="#333333"/>
<rect x="549.70" y="213.75" width="8.10" height="5.30" fill="#fff" stroke="#333333" stroke-width="0.95"/>
<line x1="553.50" y1="213.75" x2="553.50" y2="219.05" stroke="#333333" stroke-width="1.60"/>
</g>
<g id="panelC">
<text transform="translate(1.74 287.70) scale(0.9263 1)" font-size="14.40px" font-weight="bold" fill="#000" stroke="#000" stroke-width="0.75" stroke-linejoin="round">C</text>
<line x1="91.20" y1="289.10" x2="91.20" y2="505.80" stroke="#ebebeb" stroke-width="0.80" />
<line x1="169.26" y1="289.10" x2="169.26" y2="505.80" stroke="#ebebeb" stroke-width="0.80" />
<line x1="208.29" y1="289.10" x2="208.29" y2="505.80" stroke="#ebebeb" stroke-width="0.80" />
<line x1="247.32" y1="289.10" x2="247.32" y2="505.80" stroke="#ebebeb" stroke-width="0.80" />
<line x1="286.35" y1="289.10" x2="286.35" y2="505.80" stroke="#ebebeb" stroke-width="0.80" />
<line x1="130.23" y1="289.10" x2="130.23" y2="505.80" stroke="#ebebeb" stroke-width="0.80" />
<line x1="83.50" y1="320.30" x2="320.80" y2="320.30" stroke="#ebebeb" stroke-width="0.80"/>
<line x1="83.50" y1="371.80" x2="320.80" y2="371.80" stroke="#ebebeb" stroke-width="0.80"/>
<line x1="83.50" y1="423.40" x2="320.80" y2="423.40" stroke="#ebebeb" stroke-width="0.80"/>
<line x1="83.50" y1="475.00" x2="320.80" y2="475.00" stroke="#ebebeb" stroke-width="0.80"/>
<text transform="translate(5.91 325.00) scale(0.9788 1)" font-size="10.80px" font-weight="normal" fill="#000" stroke="#000" stroke-width="0.18">CD138<tspan dy="-3.56" font-size="7.99px">neg</tspan><tspan dy="3.56">BMNC</tspan></text>
<text transform="translate(24.89 374.70) scale(0.9408 1)" font-size="10.80px" font-weight="normal" fill="#000" stroke="#000" stroke-width="0.18">U2OS-PLK4</text>
<text transform="translate(52.28 428.10) scale(1.0164 1)" font-size="10.80px" font-weight="normal" fill="#000" stroke="#000" stroke-width="0.18">B cells</text>
<text transform="translate(25.43 478.50) scale(0.9421 1)" font-size="10.80px" font-weight="normal" fill="#000" stroke="#000" stroke-width="0.18">CD138<tspan dy="-3.56" font-size="7.99px">pos</tspan><tspan dy="3.56">PC</tspan></text>
<text x="91.20" y="518.40" font-size="11.00px" text-anchor="middle" font-weight="normal" fill="#000"  style="">0</text>
<text x="130.23" y="518.40" font-size="11.00px" text-anchor="middle" font-weight="normal" fill="#000"  style="">500</text>
<text x="169.26" y="518.40" font-size="11.00px" text-anchor="middle" font-weight="normal" fill="#000"  style="">1000</text>
<text x="208.29" y="518.40" font-size="11.00px" text-anchor="middle" font-weight="normal" fill="#000"  style="">1500</text>
<text x="247.32" y="518.40" font-size="11.00px" text-anchor="middle" font-weight="normal" fill="#000"  style="">2000</text>
<text x="286.35" y="518.40" font-size="11.00px" text-anchor="middle" font-weight="normal" fill="#000"  style="">2500</text>
<text x="200.20" y="536.70" font-size="10.60px" text-anchor="middle" font-weight="normal" fill="#000" textLength="100.00" lengthAdjust="spacingAndGlyphs"  style="">Centriole length (nm)</text>
<line x1="95.50" y1="320.30" x2="150.70" y2="320.30" stroke="#333333" stroke-width="1.00"/>
<path d="M94.20 320.30 C96.13 319.77 96.40 320.10 100.00 318.70 C103.60 317.30 101.83 318.37 105.00 316.10 C108.17 313.83 106.57 315.43 109.50 311.90 C112.43 308.37 110.97 309.40 113.80 305.50 C116.63 301.60 115.43 300.73 118.00 300.20 C120.57 299.67 119.17 300.87 121.50 303.90 C123.83 306.93 122.67 305.83 125.00 309.30 C127.33 312.77 126.17 311.43 128.50 314.30 C130.83 317.17 128.83 315.90 132.00 317.90 C135.17 319.90 138.00 318.70 138.00 320.30 C138.00 321.90 135.17 320.70 132.00 322.70 C128.83 324.70 130.83 323.43 128.50 326.30 C126.17 329.17 127.33 327.83 125.00 331.30 C122.67 334.77 123.83 333.67 121.50 336.70 C119.17 339.73 120.57 340.93 118.00 340.40 C115.43 339.87 116.63 339.00 113.80 335.10 C110.97 331.20 112.43 332.23 109.50 328.70 C106.57 325.17 108.17 326.77 105.00 324.50 C101.83 322.23 103.60 323.30 100.00 321.90 C96.40 320.50 96.13 320.83 94.20 320.30 Z" fill="#3B4992" stroke="#2b2b2b" stroke-width="0.70" stroke-linejoin="round"/>
<line x1="94.20" y1="320.30" x2="138.00" y2="320.30" stroke="#333333" stroke-width="0.80"/>
<circle cx="95.50" cy="320.30" r="2.05" fill="#333333"/>
<circle cx="97.17" cy="320.30" r="2.05" fill="#333333"/>
<circle cx="98.83" cy="320.30" r="2.05" fill="#333333"/>
<circle cx="100.50" cy="320.30" r="2.05" fill="#333333"/>
<circle cx="138.60" cy="320.30" r="2.05" fill="#333333"/>
<circle cx="140.20" cy="320.30" r="2.05" fill="#333333"/>
<circle cx="141.80" cy="320.30" r="2.05" fill="#333333"/>
<circle cx="143.40" cy="320.30" r="2.05" fill="#333333"/>
<circle cx="146.60" cy="320.30" r="2.05" fill="#333333"/>
<circle cx="148.40" cy="320.30" r="2.05" fill="#333333"/>
<circle cx="150.20" cy="320.30" r="2.05" fill="#333333"/>
<rect x="113.60" y="314.70" width="9.50" height="11.20" fill="#fff" stroke="#333333" stroke-width="0.95"/>
<line x1="118.10" y1="314.70" x2="118.10" y2="325.90" stroke="#333333" stroke-width="1.60"/>
<line x1="99.20" y1="371.80" x2="135.70" y2="371.80" stroke="#333333" stroke-width="1.00"/>
<path d="M99.10 371.80 C99.37 370.67 98.30 370.70 99.90 368.40 C101.50 366.10 101.40 366.93 103.90 364.90 C106.40 362.87 104.93 363.50 107.40 362.30 C109.87 361.10 109.03 362.40 111.30 361.30 C113.57 360.20 111.73 361.03 114.20 359.00 C116.67 356.97 116.30 355.93 118.70 355.20 C121.10 354.47 119.17 354.63 121.40 356.80 C123.63 358.97 122.73 358.73 125.40 361.70 C128.07 364.67 126.93 363.13 129.40 365.70 C131.87 368.27 130.77 367.37 132.80 369.40 C134.83 371.43 135.50 370.20 135.50 371.80 C135.50 373.40 134.83 372.17 132.80 374.20 C130.77 376.23 131.87 375.33 129.40 377.90 C126.93 380.47 128.07 378.93 125.40 381.90 C122.73 384.87 123.63 384.63 121.40 386.80 C119.17 388.97 121.10 389.13 118.70 388.40 C116.30 387.67 116.67 386.63 114.20 384.60 C111.73 382.57 113.57 383.40 111.30 382.30 C109.03 381.20 109.87 382.50 107.40 381.30 C104.93 380.10 106.40 380.73 103.90 378.70 C101.40 376.67 101.50 377.50 99.90 375.20 C98.30 372.90 99.37 372.93 99.10 371.80 Z" fill="#EE0000" stroke="#2b2b2b" stroke-width="0.70" stroke-linejoin="round"/>
<line x1="99.20" y1="371.80" x2="135.70" y2="371.80" stroke="#333333" stroke-width="0.80"/>
<circle cx="134.80" cy="371.80" r="1.30" fill="#333333"/>
<rect x="110.60" y="366.30" width="11.80" height="11.00" fill="#fff" stroke="#333333" stroke-width="0.95"/>
<line x1="116.90" y1="366.30" x2="116.90" y2="377.30" stroke="#333333" stroke-width="1.60"/>
<line x1="104.30" y1="423.40" x2="141.20" y2="423.40" stroke="#333333" stroke-width="1.00"/>
<path d="M103.90 423.40 C104.77 422.50 104.80 423.40 106.50 420.70 C108.20 418.00 107.63 418.90 109.00 415.30 C110.37 411.70 109.40 413.70 110.60 409.90 C111.80 406.10 111.03 407.03 112.60 403.90 C114.17 400.77 113.50 401.87 115.30 400.50 C117.10 399.13 116.20 399.80 118.00 399.80 C119.80 399.80 119.13 398.70 120.70 400.50 C122.27 402.30 121.37 401.37 122.70 405.20 C124.03 409.03 123.33 407.97 124.70 412.00 C126.07 416.03 125.43 414.17 126.80 417.30 C128.17 420.43 127.47 419.37 128.80 421.40 C130.13 423.43 130.80 422.07 130.80 423.40 C130.80 424.73 130.13 423.37 128.80 425.40 C127.47 427.43 128.17 426.37 126.80 429.50 C125.43 432.63 126.07 430.77 124.70 434.80 C123.33 438.83 124.03 437.77 122.70 441.60 C121.37 445.43 122.27 444.50 120.70 446.30 C119.13 448.10 119.80 447.00 118.00 447.00 C116.20 447.00 117.10 447.67 115.30 446.30 C113.50 444.93 114.17 446.03 112.60 442.90 C111.03 439.77 111.80 440.70 110.60 436.90 C109.40 433.10 110.37 435.10 109.00 431.50 C107.63 427.90 108.20 428.80 106.50 426.10 C104.80 423.40 104.77 424.30 103.90 423.40 Z" fill="#008B45" stroke="#2b2b2b" stroke-width="0.70" stroke-linejoin="round"/>
<line x1="104.30" y1="423.40" x2="130.70" y2="423.40" stroke="#333333" stroke-width="0.80"/>
<circle cx="131.90" cy="423.40" r="2.05" fill="#333333"/>
<circle cx="133.45" cy="423.40" r="2.05" fill="#333333"/>
<circle cx="135.00" cy="423.40" r="2.05" fill="#333333"/>
<circle cx="136.55" cy="423.40" r="2.05" fill="#333333"/>
<circle cx="138.10" cy="423.40" r="2.05" fill="#333333"/>
<circle cx="139.65" cy="423.40" r="2.05" fill="#333333"/>
<circle cx="141.20" cy="423.40" r="2.05" fill="#333333"/>
<rect x="114.30" y="417.80" width="7.60" height="11.20" fill="#fff" stroke="#333333" stroke-width="0.95"/>
<line x1="118.00" y1="417.80" x2="118.00" y2="429.00" stroke="#333333" stroke-width="1.60"/>
<line x1="93.00" y1="475.00" x2="290.70" y2="475.00" stroke="#333333" stroke-width="1.00"/>
<path d="M93.00 475.00 C95.33 474.50 95.33 474.67 100.00 473.50 C104.67 472.33 102.67 473.07 107.00 471.50 C111.33 469.93 109.33 470.77 113.00 468.80 C116.67 466.83 114.87 467.30 118.00 465.60 C121.13 463.90 119.40 463.63 122.40 463.70 C125.40 463.77 123.47 464.13 127.00 465.80 C130.53 467.47 128.67 466.90 133.00 468.70 C137.33 470.50 135.00 469.77 140.00 471.20 C145.00 472.63 142.67 472.03 148.00 473.00 C153.33 473.97 150.67 473.43 156.00 474.10 C161.33 474.77 164.00 474.40 164.00 475.00 C164.00 475.60 161.33 475.23 156.00 475.90 C150.67 476.57 153.33 476.03 148.00 477.00 C142.67 477.97 145.00 477.37 140.00 478.80 C135.00 480.23 137.33 479.50 133.00 481.30 C128.67 483.10 130.53 482.53 127.00 484.20 C123.47 485.87 125.40 486.23 122.40 486.30 C119.40 486.37 121.13 486.10 118.00 484.40 C114.87 482.70 116.67 483.17 113.00 481.20 C109.33 479.23 111.33 480.07 107.00 478.50 C102.67 476.93 104.67 477.67 100.00 476.50 C95.33 475.33 95.33 475.50 93.00 475.00 Z" fill="#EDC669" stroke="#2b2b2b" stroke-width="0.70" stroke-linejoin="round"/>
<line x1="93.00" y1="475.00" x2="164.00" y2="475.00" stroke="#333333" stroke-width="0.80"/>
<circle cx="164.60" cy="475.00" r="2.05" fill="#333333"/>
<circle cx="166.20" cy="475.00" r="2.05" fill="#333333"/>
<circle cx="167.79" cy="475.00" r="2.05" fill="#333333"/>
<circle cx="169.39" cy="475.00" r="2.05" fill="#333333"/>
<circle cx="170.99" cy="475.00" r="2.05" fill="#333333"/>
<circle cx="172.58" cy="475.00" r="2.05" fill="#333333"/>
<circle cx="174.18" cy="475.00" r="2.05" fill="#333333"/>
<circle cx="175.77" cy="475.00" r="2.05" fill="#333333"/>
<circle cx="177.37" cy="475.00" r="2.05" fill="#333333"/>
<circle cx="178.97" cy="475.00" r="2.05" fill="#333333"/>
<circle cx="180.56" cy="475.00" r="2.05" fill="#333333"/>
<circle cx="182.16" cy="475.00" r="2.05" fill="#333333"/>
<circle cx="183.76" cy="475.00" r="2.05" fill="#333333"/>
<circle cx="185.35" cy="475.00" r="2.05" fill="#333333"/>
<circle cx="186.95" cy="475.00" r="2.05" fill="#333333"/>
<circle cx="188.54" cy="475.00" r="2.05" fill="#333333"/>
<circle cx="190.14" cy="475.00" r="2.05" fill="#333333"/>
<circle cx="191.74" cy="475.00" r="2.05" fill="#333333"/>
<circle cx="193.33" cy="475.00" r="2.05" fill="#333333"/>
<circle cx="194.93" cy="475.00" r="2.05" fill="#333333"/>
<circle cx="196.53" cy="475.00" r="2.05" fill="#333333"/>
<circle cx="198.12" cy="475.00" r="2.05" fill="#333333"/>
<circle cx="199.72" cy="475.00" r="2.05" fill="#333333"/>
<circle cx="201.31" cy="475.00" r="2.05" fill="#333333"/>
<circle cx="202.91" cy="475.00" r="2.05" fill="#333333"/>
<circle cx="204.51" cy="475.00" r="2.05" fill="#333333"/>
<circle cx="206.10" cy="475.00" r="2.05" fill="#333333"/>
<circle cx="207.70" cy="475.00" r="2.05" fill="#333333"/>
<circle cx="211.50" cy="475.00" r="2.05" fill="#333333"/>
<circle cx="215.30" cy="475.00" r="2.05" fill="#333333"/>
<circle cx="219.00" cy="475.00" r="2.05" fill="#333333"/>
<circle cx="222.80" cy="475.00" r="2.05" fill="#333333"/>
<circle cx="225.80" cy="475.00" r="2.05" fill="#333333"/>
<circle cx="229.10" cy="475.00" r="2.05" fill="#333333"/>
<circle cx="236.60" cy="475.00" r="2.05" fill="#333333"/>
<circle cx="238.40" cy="475.00" r="2.05" fill="#333333"/>
<circle cx="242.90" cy="475.00" r="2.05" fill="#333333"/>
<circle cx="251.70" cy="475.00" r="2.05" fill="#333333"/>
<circle cx="255.00" cy="475.00" r="2.05" fill="#333333"/>
<circle cx="266.80" cy="475.00" r="2.05" fill="#333333"/>
<circle cx="269.80" cy="475.00" r="2.05" fill="#333333"/>
<circle cx="278.80" cy="475.00" r="2.05" fill="#333333"/>
<circle cx="284.90" cy="475.00" r="2.05" fill="#333333"/>
<circle cx="290.70" cy="475.00" r="2.05" fill="#333333"/>
<rect x="118.60" y="469.50" width="18.80" height="11.00" fill="#fff" stroke="#333333" stroke-width="0.95"/>
<line x1="125.60" y1="469.50" x2="125.60" y2="480.50" stroke="#333333" stroke-width="1.60"/>
<line x1="130.00" y1="289.30" x2="130.00" y2="505.80" stroke="#FF0000" stroke-width="2.00" stroke-dasharray="7.7 7.6" stroke-dashoffset="5.3"/>
<text x="309.60" y="371.60" font-size="10.80px" text-anchor="middle" font-weight="normal" fill="#000"  style="">ns</text>
<text x="309.60" y="423.30" font-size="10.80px" text-anchor="middle" font-weight="normal" fill="#000"  style="">ns</text>
<text x="309.80" y="475.00" font-size="9.80px" text-anchor="middle" font-weight="normal" fill="#000" stroke="#000" stroke-width="0.25" style="">****</text>
</g>
<g id="panelD">
<text transform="translate(358.10 287.70) scale(1.0971 1)" font-size="14.40px" font-weight="bold" fill="#000" stroke="#000" stroke-width="0.75" stroke-linejoin="round">D</text>
<line x1="448.50" y1="289.10" x2="448.50" y2="505.80" stroke="#ebebeb" stroke-width="0.80" />
<line x1="487.60" y1="289.10" x2="487.60" y2="505.80" stroke="#ebebeb" stroke-width="0.80" />
<line x1="526.70" y1="289.10" x2="526.70" y2="505.80" stroke="#ebebeb" stroke-width="0.80" />
<line x1="565.80" y1="289.10" x2="565.80" y2="505.80" stroke="#ebebeb" stroke-width="0.80" />
<line x1="604.90" y1="289.10" x2="604.90" y2="505.80" stroke="#ebebeb" stroke-width="0.80" />
<line x1="644.00" y1="289.10" x2="644.00" y2="505.80" stroke="#ebebeb" stroke-width="0.80" />
<line x1="443.00" y1="303.50" x2="678.40" y2="303.50" stroke="#ebebeb" stroke-width="0.80"/>
<line x1="443.00" y1="327.20" x2="678.40" y2="327.20" stroke="#ebebeb" stroke-width="0.80"/>
<line x1="443.00" y1="350.60" x2="678.40" y2="350.60" stroke="#ebebeb" stroke-width="0.80"/>
<line x1="443.00" y1="374.20" x2="678.40" y2="374.20" stroke="#ebebeb" stroke-width="0.80"/>
<line x1="443.00" y1="397.70" x2="678.40" y2="397.70" stroke="#ebebeb" stroke-width="0.80"/>
<line x1="443.00" y1="421.40" x2="678.40" y2="421.40" stroke="#ebebeb" stroke-width="0.80"/>
<line x1="443.00" y1="445.20" x2="678.40" y2="445.20" stroke="#ebebeb" stroke-width="0.80"/>
<line x1="443.00" y1="468.50" x2="678.40" y2="468.50" stroke="#ebebeb" stroke-width="0.80"/>
<line x1="443.00" y1="491.90" x2="678.40" y2="491.90" stroke="#ebebeb" stroke-width="0.80"/>
<text transform="translate(365.02 307.20) scale(0.9672 1)" font-size="10.80px" font-weight="normal" fill="#000" stroke="#000" stroke-width="0.18">CD138<tspan dy="-3.56" font-size="7.99px">neg</tspan><tspan dy="3.56">BMNC</tspan></text>
<text transform="translate(383.80 330.90) scale(0.9322 1)" font-size="10.80px" font-weight="normal" fill="#000" stroke="#000" stroke-width="0.18">U2OS-PLK4</text>
<text transform="translate(413.77 354.30) scale(0.9322 1)" font-size="10.80px" font-weight="normal" fill="#000" stroke="#000" stroke-width="0.18">B-ALL</text>
<text transform="translate(413.36 377.90) scale(0.9402 1)" font-size="10.80px" font-weight="normal" fill="#000" stroke="#000" stroke-width="0.18">B-CLL</text>
<text transform="translate(386.70 401.40) scale(1.0009 1)" font-size="10.80px" font-weight="normal" fill="#000" stroke="#000" stroke-width="0.18">Healthy PC</text>
<text transform="translate(413.38 425.10) scale(0.9226 1)" font-size="10.80px" font-weight="normal" fill="#000" stroke="#000" stroke-width="0.18">MGUS</text>
<text transform="translate(420.81 448.90) scale(0.9726 1)" font-size="10.80px" font-weight="normal" fill="#000" stroke="#000" stroke-width="0.18">SMM</text>
<text transform="translate(427.58 472.20) scale(1.0154 1)" font-size="10.80px" font-weight="normal" fill="#000" stroke="#000" stroke-width="0.18">MM</text>
<text transform="translate(425.11 495.60) scale(0.8861 1)" font-size="10.80px" font-weight="normal" fill="#000" stroke="#000" stroke-width="0.18">PCL</text>
<text x="448.50" y="518.40" font-size="11.00px" text-anchor="middle" font-weight="normal" fill="#000"  style="">0</text>
<text x="487.60" y="518.40" font-size="11.00px" text-anchor="middle" font-weight="normal" fill="#000"  style="">500</text>
<text x="526.70" y="518.40" font-size="11.00px" text-anchor="middle" font-weight="normal" fill="#000"  style="">1000</text>
<text x="565.80" y="518.40" font-size="11.00px" text-anchor="middle" font-weight="normal" fill="#000"  style="">1500</text>
<text x="604.90" y="518.40" font-size="11.00px" text-anchor="middle" font-weight="normal" fill="#000"  style="">2000</text>
<text x="644.00" y="518.40" font-size="11.00px" text-anchor="middle" font-weight="normal" fill="#000"  style="">2500</text>
<text x="558.30" y="536.70" font-size="10.60px" text-anchor="middle" font-weight="normal" fill="#000" textLength="100.00" lengthAdjust="spacingAndGlyphs"  style="">Centriole length (nm)</text>
<line x1="453.00" y1="303.50" x2="507.60" y2="303.50" stroke="#333333" stroke-width="1.00"/>
<path d="M459.20 303.50 C460.53 303.27 460.53 303.60 463.20 302.80 C465.87 302.00 464.73 302.67 467.20 301.10 C469.67 299.53 468.57 299.90 470.60 298.10 C472.63 296.30 471.50 296.83 473.30 295.70 C475.10 294.57 473.97 294.43 476.00 294.70 C478.03 294.97 477.17 294.90 479.40 296.50 C481.63 298.10 480.47 297.70 482.70 299.50 C484.93 301.30 483.83 300.73 486.10 301.90 C488.37 303.07 487.47 302.47 489.50 303.00 C491.53 303.53 492.20 303.17 492.20 303.50 C492.20 303.83 491.53 303.47 489.50 304.00 C487.47 304.53 488.37 303.93 486.10 305.10 C483.83 306.27 484.93 305.70 482.70 307.50 C480.47 309.30 481.63 308.90 479.40 310.50 C477.17 312.10 478.03 312.03 476.00 312.30 C473.97 312.57 475.10 312.43 473.30 311.30 C471.50 310.17 472.63 310.70 470.60 308.90 C468.57 307.10 469.67 307.47 467.20 305.90 C464.73 304.33 465.87 305.00 463.20 304.20 C460.53 303.40 460.53 303.73 459.20 303.50 Z" fill="#3B4992" stroke="#2b2b2b" stroke-width="0.70" stroke-linejoin="round"/>
<line x1="459.20" y1="303.50" x2="492.20" y2="303.50" stroke="#333333" stroke-width="0.80"/>
<circle cx="453.00" cy="303.50" r="2.05" fill="#333333"/>
<circle cx="454.40" cy="303.50" r="2.05" fill="#333333"/>
<circle cx="455.80" cy="303.50" r="2.05" fill="#333333"/>
<circle cx="457.20" cy="303.50" r="2.05" fill="#333333"/>
<circle cx="458.60" cy="303.50" r="2.05" fill="#333333"/>
<circle cx="496.30" cy="303.50" r="2.05" fill="#333333"/>
<circle cx="498.15" cy="303.50" r="2.05" fill="#333333"/>
<circle cx="500.00" cy="303.50" r="2.05" fill="#333333"/>
<circle cx="503.00" cy="303.50" r="2.05" fill="#333333"/>
<circle cx="505.50" cy="303.50" r="2.05" fill="#333333"/>
<circle cx="507.60" cy="303.50" r="2.05" fill="#333333"/>
<rect x="471.10" y="300.80" width="9.60" height="5.40" fill="#fff" stroke="#333333" stroke-width="0.95"/>
<line x1="476.20" y1="300.80" x2="476.20" y2="306.20" stroke="#333333" stroke-width="1.60"/>
<line x1="456.80" y1="327.20" x2="493.80" y2="327.20" stroke="#333333" stroke-width="1.00"/>
<path d="M456.80 327.20 C457.70 326.33 457.10 326.13 459.50 324.60 C461.90 323.07 460.50 323.80 464.00 322.60 C467.50 321.40 465.93 321.97 470.00 321.00 C474.07 320.03 472.53 319.63 476.20 319.70 C479.87 319.77 478.07 320.03 481.00 321.20 C483.93 322.37 482.33 321.87 485.00 323.20 C487.67 324.53 486.07 323.87 489.00 325.20 C491.93 326.53 493.80 325.87 493.80 327.20 C493.80 328.53 491.93 327.87 489.00 329.20 C486.07 330.53 487.67 329.87 485.00 331.20 C482.33 332.53 483.93 332.03 481.00 333.20 C478.07 334.37 479.87 334.63 476.20 334.70 C472.53 334.77 474.07 334.37 470.00 333.40 C465.93 332.43 467.50 333.00 464.00 331.80 C460.50 330.60 461.90 331.33 459.50 329.80 C457.10 328.27 457.70 328.07 456.80 327.20 Z" fill="#EE0000" stroke="#2b2b2b" stroke-width="0.70" stroke-linejoin="round"/>
<line x1="456.80" y1="327.20" x2="493.80" y2="327.20" stroke="#333333" stroke-width="0.80"/>
<circle cx="493.20" cy="327.20" r="1.20" fill="#333333"/>
<rect x="468.60" y="324.50" width="12.10" height="5.40" fill="#fff" stroke="#333333" stroke-width="0.95"/>
<line x1="475.40" y1="324.50" x2="475.40" y2="329.90" stroke="#333333" stroke-width="1.60"/>
<line x1="462.50" y1="350.60" x2="495.50" y2="350.60" stroke="#333333" stroke-width="1.00"/>
<path d="M462.50 350.60 C463.40 350.07 463.40 351.00 465.20 349.00 C467.00 347.00 466.33 347.13 467.90 344.60 C469.47 342.07 468.33 342.90 469.90 341.40 C471.47 339.90 470.57 340.63 472.60 340.10 C474.63 339.57 473.97 339.67 476.00 339.80 C478.03 339.93 477.13 339.37 478.70 340.50 C480.27 341.63 479.37 341.17 480.70 343.20 C482.03 345.23 481.13 344.57 482.70 346.60 C484.27 348.63 483.83 347.97 485.40 349.30 C486.97 350.63 487.40 349.73 487.40 350.60 C487.40 351.47 486.97 350.57 485.40 351.90 C483.83 353.23 484.27 352.57 482.70 354.60 C481.13 356.63 482.03 355.97 480.70 358.00 C479.37 360.03 480.27 359.57 478.70 360.70 C477.13 361.83 478.03 361.27 476.00 361.40 C473.97 361.53 474.63 361.63 472.60 361.10 C470.57 360.57 471.47 361.30 469.90 359.80 C468.33 358.30 469.47 359.13 467.90 356.60 C466.33 354.07 467.00 354.20 465.20 352.20 C463.40 350.20 463.40 351.13 462.50 350.60 Z" fill="#008B45" stroke="#2b2b2b" stroke-width="0.70" stroke-linejoin="round"/>
<line x1="463.10" y1="350.60" x2="487.50" y2="350.60" stroke="#333333" stroke-width="0.80"/>
<circle cx="495.50" cy="350.60" r="2.05" fill="#333333"/>
<rect x="471.60" y="347.90" width="7.10" height="5.40" fill="#fff" stroke="#333333" stroke-width="0.95"/>
<line x1="475.40" y1="347.90" x2="475.40" y2="353.30" stroke="#333333" stroke-width="1.60"/>
<line x1="466.10" y1="374.20" x2="498.30" y2="374.20" stroke="#333333" stroke-width="1.00"/>
<path d="M466.20 374.20 C466.53 373.07 465.97 372.83 467.20 370.80 C468.43 368.77 467.63 369.67 469.90 368.10 C472.17 366.53 471.30 366.93 474.00 366.10 C476.70 365.27 475.30 365.23 478.00 365.60 C480.70 365.97 479.40 365.90 482.10 367.20 C484.80 368.50 483.43 368.07 486.10 369.50 C488.77 370.93 487.40 370.30 490.10 371.50 C492.80 372.70 491.93 372.20 494.20 373.10 C496.47 374.00 496.90 373.47 496.90 374.20 C496.90 374.93 496.47 374.40 494.20 375.30 C491.93 376.20 492.80 375.70 490.10 376.90 C487.40 378.10 488.77 377.47 486.10 378.90 C483.43 380.33 484.80 379.90 482.10 381.20 C479.40 382.50 480.70 382.43 478.00 382.80 C475.30 383.17 476.70 383.13 474.00 382.30 C471.30 381.47 472.17 381.87 469.90 380.30 C467.63 378.73 468.43 379.63 467.20 377.60 C465.97 375.57 466.53 375.33 466.20 374.20 Z" fill="#99D8B8" stroke="#2b2b2b" stroke-width="0.70" stroke-linejoin="round"/>
<line x1="466.10" y1="374.20" x2="496.30" y2="374.20" stroke="#333333" stroke-width="0.80"/>
<circle cx="498.30" cy="374.20" r="2.05" fill="#333333"/>
<rect x="474.20" y="371.50" width="8.80" height="5.40" fill="#fff" stroke="#333333" stroke-width="0.95"/>
<line x1="478.70" y1="371.50" x2="478.70" y2="376.90" stroke="#333333" stroke-width="1.60"/>
<line x1="453.60" y1="397.70" x2="648.70" y2="397.70" stroke="#333333" stroke-width="1.00"/>
<path d="M453.60 397.70 C456.40 397.43 456.53 397.53 462.00 396.90 C467.47 396.27 464.67 396.43 470.00 395.80 C475.33 395.17 473.00 395.63 478.00 395.00 C483.00 394.37 480.33 394.20 485.00 393.90 C489.67 393.60 487.00 393.77 492.00 394.10 C497.00 394.43 494.67 394.33 500.00 394.90 C505.33 395.47 502.67 395.23 508.00 395.80 C513.33 396.37 510.00 396.17 516.00 396.60 C522.00 397.03 516.67 396.73 526.00 397.10 C535.33 397.47 544.00 397.30 544.00 397.70 C544.00 398.10 535.33 397.93 526.00 398.30 C516.67 398.67 522.00 398.37 516.00 398.80 C510.00 399.23 513.33 399.03 508.00 399.60 C502.67 400.17 505.33 399.93 500.00 400.50 C494.67 401.07 497.00 400.97 492.00 401.30 C487.00 401.63 489.67 401.80 485.00 401.50 C480.33 401.20 483.00 401.03 478.00 400.40 C473.00 399.77 475.33 400.23 470.00 399.60 C464.67 398.97 467.47 399.13 462.00 398.50 C456.53 397.87 456.40 397.97 453.60 397.70 Z" fill="#EDC669" stroke="#2b2b2b" stroke-width="0.70" stroke-linejoin="round"/>
<line x1="453.60" y1="397.70" x2="544.00" y2="397.70" stroke="#333333" stroke-width="0.80"/>
<circle cx="544.00" cy="397.70" r="2.05" fill="#333333"/>
<circle cx="545.74" cy="397.70" r="2.05" fill="#333333"/>
<circle cx="547.48" cy="397.70" r="2.05" fill="#333333"/>
<circle cx="549.22" cy="397.70" r="2.05" fill="#333333"/>
<circle cx="550.96" cy="397.70" r="2.05" fill="#333333"/>
<circle cx="552.70" cy="397.70" r="2.05" fill="#333333"/>
<circle cx="556.50" cy="397.70" r="2.05" fill="#333333"/>
<circle cx="560.80" cy="397.70" r="2.05" fill="#333333"/>
<circle cx="569.80" cy="397.70" r="2.05" fill="#333333"/>
<circle cx="572.80" cy="397.70" r="2.05" fill="#333333"/>
<circle cx="577.90" cy="397.70" r="2.05" fill="#333333"/>
<circle cx="580.40" cy="397.70" r="2.05" fill="#333333"/>
<circle cx="582.90" cy="397.70" r="2.05" fill="#333333"/>
<circle cx="587.40" cy="397.70" r="2.05" fill="#333333"/>
<circle cx="594.20" cy="397.70" r="2.05" fill="#333333"/>
<circle cx="609.30" cy="397.70" r="2.05" fill="#333333"/>
<circle cx="624.80" cy="397.70" r="2.05" fill="#333333"/>
<circle cx="648.70" cy="397.70" r="2.05" fill="#333333"/>
<rect x="480.70" y="395.00" width="25.10" height="5.40" fill="#fff" stroke="#333333" stroke-width="0.95"/>
<line x1="491.20" y1="395.00" x2="491.20" y2="400.40" stroke="#333333" stroke-width="1.60"/>
<line x1="456.10" y1="421.40" x2="643.20" y2="421.40" stroke="#333333" stroke-width="1.00"/>
<path d="M456.10 421.40 C458.73 421.13 458.70 421.27 464.00 420.60 C469.30 419.93 466.67 420.27 472.00 419.40 C477.33 418.53 475.33 418.63 480.00 418.00 C484.67 417.37 481.67 417.53 486.00 417.50 C490.33 417.47 487.67 417.47 493.00 417.90 C498.33 418.33 496.33 418.23 502.00 418.80 C507.67 419.37 504.67 419.07 510.00 419.60 C515.33 420.13 511.33 419.97 518.00 420.40 C524.67 420.83 519.33 420.57 530.00 420.90 C540.67 421.23 550.00 421.07 550.00 421.40 C550.00 421.73 540.67 421.57 530.00 421.90 C519.33 422.23 524.67 421.97 518.00 422.40 C511.33 422.83 515.33 422.67 510.00 423.20 C504.67 423.73 507.67 423.43 502.00 424.00 C496.33 424.57 498.33 424.47 493.00 424.90 C487.67 425.33 490.33 425.33 486.00 425.30 C481.67 425.27 484.67 425.43 480.00 424.80 C475.33 424.17 477.33 424.27 472.00 423.40 C466.67 422.53 469.30 422.87 464.00 422.20 C458.70 421.53 458.73 421.67 456.10 421.40 Z" fill="#E6B84B" stroke="#2b2b2b" stroke-width="0.70" stroke-linejoin="round"/>
<line x1="456.10" y1="421.40" x2="550.00" y2="421.40" stroke="#333333" stroke-width="0.80"/>
<circle cx="550.20" cy="421.40" r="2.05" fill="#333333"/>
<circle cx="556.50" cy="421.40" r="2.05" fill="#333333"/>
<circle cx="558.50" cy="421.40" r="2.05" fill="#333333"/>
<circle cx="562.80" cy="421.40" r="2.05" fill="#333333"/>
<circle cx="565.30" cy="421.40" r="2.05" fill="#333333"/>
<circle cx="574.10" cy="421.40" r="2.05" fill="#333333"/>
<circle cx="576.60" cy="421.40" r="2.05" fill="#333333"/>
<circle cx="594.20" cy="421.40" r="2.05" fill="#333333"/>
<circle cx="613.00" cy="421.40" r="2.05" fill="#333333"/>
<circle cx="643.20" cy="421.40" r="2.05" fill="#333333"/>
<rect x="480.70" y="418.70" width="26.90" height="5.40" fill="#fff" stroke="#333333" stroke-width="0.95"/>
<line x1="490.00" y1="418.70" x2="490.00" y2="424.10" stroke="#333333" stroke-width="1.60"/>
<line x1="456.10" y1="445.20" x2="649.50" y2="445.20" stroke="#333333" stroke-width="1.00"/>
<path d="M456.10 445.20 C458.73 444.93 458.70 445.03 464.00 444.40 C469.30 443.77 466.67 444.03 472.00 443.30 C477.33 442.57 475.00 442.73 480.00 442.20 C485.00 441.67 482.00 441.77 487.00 441.70 C492.00 441.63 489.00 441.67 495.00 442.00 C501.00 442.33 498.00 442.20 505.00 442.70 C512.00 443.20 508.33 443.00 516.00 443.50 C523.67 444.00 518.33 443.80 528.00 444.20 C537.67 444.60 528.33 444.37 545.00 444.70 C561.67 445.03 578.00 444.87 578.00 445.20 C578.00 445.53 561.67 445.37 545.00 445.70 C528.33 446.03 537.67 445.80 528.00 446.20 C518.33 446.60 523.67 446.40 516.00 446.90 C508.33 447.40 512.00 447.20 505.00 447.70 C498.00 448.20 501.00 448.07 495.00 448.40 C489.00 448.73 492.00 448.77 487.00 448.70 C482.00 448.63 485.00 448.73 480.00 448.20 C475.00 447.67 477.33 447.83 472.00 447.10 C466.67 446.37 469.30 446.63 464.00 446.00 C458.70 445.37 458.73 445.47 456.10 445.20 Z" fill="#BF9C41" stroke="#2b2b2b" stroke-width="0.70" stroke-linejoin="round"/>
<line x1="456.10" y1="445.20" x2="578.00" y2="445.20" stroke="#333333" stroke-width="0.80"/>
<circle cx="577.90" cy="445.20" r="2.05" fill="#333333"/>
<circle cx="582.40" cy="445.20" r="2.05" fill="#333333"/>
<circle cx="584.60" cy="445.20" r="2.05" fill="#333333"/>
<circle cx="596.20" cy="445.20" r="2.05" fill="#333333"/>
<circle cx="601.00" cy="445.20" r="2.05" fill="#333333"/>
<circle cx="627.60" cy="445.20" r="2.05" fill="#333333"/>
<circle cx="636.90" cy="445.20" r="2.05" fill="#333333"/>
<circle cx="642.70" cy="445.20" r="2.05" fill="#333333"/>
<circle cx="649.50" cy="445.20" r="2.05" fill="#333333"/>
<rect x="482.40" y="442.50" width="33.20" height="5.40" fill="#fff" stroke="#333333" stroke-width="0.95"/>
<line x1="493.00" y1="442.50" x2="493.00" y2="447.90" stroke="#333333" stroke-width="1.60"/>
<line x1="450.50" y1="468.50" x2="584.90" y2="468.50" stroke="#333333" stroke-width="1.00"/>
<path d="M459.80 468.50 C461.53 468.13 461.60 468.40 465.00 467.40 C468.40 466.40 466.67 466.93 470.00 465.50 C473.33 464.07 471.87 464.20 475.00 463.10 C478.13 462.00 476.40 462.20 479.40 462.20 C482.40 462.20 480.80 462.20 484.00 463.10 C487.20 464.00 485.67 463.77 489.00 464.90 C492.33 466.03 490.67 465.60 494.00 466.50 C497.33 467.40 495.73 466.93 499.00 467.60 C502.27 468.27 503.80 467.90 503.80 468.50 C503.80 469.10 502.27 468.73 499.00 469.40 C495.73 470.07 497.33 469.60 494.00 470.50 C490.67 471.40 492.33 470.97 489.00 472.10 C485.67 473.23 487.20 473.00 484.00 473.90 C480.80 474.80 482.40 474.80 479.40 474.80 C476.40 474.80 478.13 475.00 475.00 473.90 C471.87 472.80 473.33 472.93 470.00 471.50 C466.67 470.07 468.40 470.60 465.00 469.60 C461.60 468.60 461.53 468.87 459.80 468.50 Z" fill="#8E6F2D" stroke="#2b2b2b" stroke-width="0.70" stroke-linejoin="round"/>
<line x1="459.80" y1="468.50" x2="503.80" y2="468.50" stroke="#333333" stroke-width="0.80"/>
<circle cx="450.50" cy="468.50" r="2.05" fill="#333333"/>
<circle cx="452.33" cy="468.50" r="2.05" fill="#333333"/>
<circle cx="454.17" cy="468.50" r="2.05" fill="#333333"/>
<circle cx="456.00" cy="468.50" r="2.05" fill="#333333"/>
<circle cx="508.80" cy="468.50" r="2.05" fill="#333333"/>
<circle cx="510.33" cy="468.50" r="2.05" fill="#333333"/>
<circle cx="511.87" cy="468.50" r="2.05" fill="#333333"/>
<circle cx="513.40" cy="468.50" r="2.05" fill="#333333"/>
<circle cx="514.93" cy="468.50" r="2.05" fill="#333333"/>
<circle cx="516.47" cy="468.50" r="2.05" fill="#333333"/>
<circle cx="518.00" cy="468.50" r="2.05" fill="#333333"/>
<circle cx="519.53" cy="468.50" r="2.05" fill="#333333"/>
<circle cx="521.07" cy="468.50" r="2.05" fill="#333333"/>
<circle cx="522.60" cy="468.50" r="2.05" fill="#333333"/>
<circle cx="526.40" cy="468.50" r="2.05" fill="#333333"/>
<circle cx="528.50" cy="468.50" r="2.05" fill="#333333"/>
<circle cx="531.00" cy="468.50" r="2.05" fill="#333333"/>
<circle cx="533.50" cy="468.50" r="2.05" fill="#333333"/>
<circle cx="536.40" cy="468.50" r="2.05" fill="#333333"/>
<circle cx="542.70" cy="468.50" r="2.05" fill="#333333"/>
<circle cx="545.20" cy="468.50" r="2.05" fill="#333333"/>
<circle cx="549.00" cy="468.50" r="2.05" fill="#333333"/>
<circle cx="552.70" cy="468.50" r="2.05" fill="#333333"/>
<circle cx="555.30" cy="468.50" r="2.05" fill="#333333"/>
<circle cx="560.30" cy="468.50" r="2.05" fill="#333333"/>
<circle cx="564.50" cy="468.50" r="2.05" fill="#333333"/>
<circle cx="578.60" cy="468.50" r="2.05" fill="#333333"/>
<circle cx="581.60" cy="468.50" r="2.05" fill="#333333"/>
<circle cx="584.90" cy="468.50" r="2.05" fill="#333333"/>
<rect x="476.20" y="465.80" width="12.50" height="5.40" fill="#fff" stroke="#333333" stroke-width="0.95"/>
<line x1="482.40" y1="465.80" x2="482.40" y2="471.20" stroke="#333333" stroke-width="1.60"/>
<line x1="457.30" y1="491.90" x2="500.00" y2="491.90" stroke="#333333" stroke-width="1.00"/>
<path d="M461.40 491.90 C463.13 491.60 463.97 492.47 466.60 491.00 C469.23 489.53 467.83 489.73 469.30 487.50 C470.77 485.27 469.57 485.93 471.00 484.30 C472.43 482.67 471.83 483.23 473.60 482.60 C475.37 481.97 474.53 482.20 476.30 482.40 C478.07 482.60 477.43 482.07 478.90 483.20 C480.37 484.33 479.53 483.77 480.70 485.80 C481.87 487.83 480.97 487.43 482.40 489.30 C483.83 491.17 483.23 490.53 485.00 491.40 C486.77 492.27 487.70 491.57 487.70 491.90 C487.70 492.23 486.77 491.53 485.00 492.40 C483.23 493.27 483.83 492.63 482.40 494.50 C480.97 496.37 481.87 495.97 480.70 498.00 C479.53 500.03 480.37 499.47 478.90 500.60 C477.43 501.73 478.07 501.20 476.30 501.40 C474.53 501.60 475.37 501.83 473.60 501.20 C471.83 500.57 472.43 501.13 471.00 499.50 C469.57 497.87 470.77 498.53 469.30 496.30 C467.83 494.07 469.23 494.27 466.60 492.80 C463.97 491.33 463.13 492.20 461.40 491.90 Z" fill="#5F4618" stroke="#2b2b2b" stroke-width="0.70" stroke-linejoin="round"/>
<line x1="461.40" y1="491.90" x2="487.70" y2="491.90" stroke="#333333" stroke-width="0.80"/>
<circle cx="456.90" cy="491.90" r="2.05" fill="#333333"/>
<circle cx="458.60" cy="491.90" r="2.05" fill="#333333"/>
<circle cx="460.30" cy="491.90" r="2.05" fill="#333333"/>
<circle cx="491.40" cy="491.90" r="2.05" fill="#333333"/>
<circle cx="493.20" cy="491.90" r="2.05" fill="#333333"/>
<circle cx="494.80" cy="491.90" r="2.05" fill="#333333"/>
<circle cx="499.40" cy="491.90" r="2.05" fill="#333333"/>
<rect x="471.90" y="489.10" width="7.50" height="5.60" fill="#fff" stroke="#333333" stroke-width="0.95"/>
<line x1="475.80" y1="489.10" x2="475.80" y2="494.70" stroke="#333333" stroke-width="1.60"/>
<line x1="488.00" y1="289.30" x2="488.00" y2="505.80" stroke="#FF0000" stroke-width="2.00" stroke-dasharray="7.7 7.6" stroke-dashoffset="5.3"/>
<text x="667.20" y="327.00" font-size="10.80px" text-anchor="middle" font-weight="normal" fill="#000"  style="">ns</text>
<text x="667.20" y="350.80" font-size="10.80px" text-anchor="middle" font-weight="normal" fill="#000"  style="">ns</text>
<text x="667.20" y="373.50" font-size="9.80px" text-anchor="middle" font-weight="normal" fill="#000" stroke="#000" stroke-width="0.25" style="">**</text>
<text x="667.20" y="396.90" font-size="9.80px" text-anchor="middle" font-weight="normal" fill="#000" stroke="#000" stroke-width="0.25" style="">****</text>
<text x="667.20" y="420.60" font-size="9.80px" text-anchor="middle" font-weight="normal" fill="#000" stroke="#000" stroke-width="0.25" style="">****</text>
<text x="667.20" y="444.10" font-size="9.80px" text-anchor="middle" font-weight="normal" fill="#000" stroke="#000" stroke-width="0.25" style="">****</text>
<text x="667.20" y="467.30" font-size="9.80px" text-anchor="middle" font-weight="normal" fill="#000" stroke="#000" stroke-width="0.25" style="">****</text>
<text x="667.20" y="491.60" font-size="10.80px" text-anchor="middle" font-weight="normal" fill="#000"  style="">ns</text>
</g>
<g id="panelE">
<text transform="translate(1.35 563.00) scale(0.8500 1)" font-size="14.40px" font-weight="bold" fill="#000" stroke="#000" stroke-width="0.75" stroke-linejoin="round">E</text>
<rect x="9.0" y="562.0" width="261.35" height="254.65" fill="#000"/>
<defs>
<filter id="rough" x="-20%" y="-20%" width="140%" height="140%" color-interpolation-filters="sRGB">
  <feTurbulence type="fractalNoise" baseFrequency="0.45" numOctaves="2" seed="4" result="n"/>
  <feDisplacementMap in="SourceGraphic" in2="n" scale="4.5" xChannelSelector="R" yChannelSelector="G"/>
</filter>
<filter id="rough2" x="-20%" y="-20%" width="140%" height="140%" color-interpolation-filters="sRGB">
  <feTurbulence type="fractalNoise" baseFrequency="0.42" numOctaves="2" seed="11" result="n"/>
  <feDisplacementMap in="SourceGraphic" in2="n" scale="5.5" xChannelSelector="R" yChannelSelector="G"/>
</filter>
<filter id="yel" x="-20%" y="-20%" width="140%" height="140%" color-interpolation-filters="sRGB">
  <feTurbulence type="fractalNoise" baseFrequency="0.42" numOctaves="2" seed="11" result="n"/>
  <feDisplacementMap in="SourceGraphic" in2="n" scale="5.5" xChannelSelector="R" yChannelSelector="G" result="d"/>
  <feTurbulence type="fractalNoise" baseFrequency="0.55" numOctaves="2" seed="3" result="n2"/>
  <feColorMatrix in="n2" type="matrix" values="0 0 0 0 0.70  0 0 0 0 0.62  0 0 0 0 0.02  -8 0 0 0 3.2" result="s"/>
  <feComposite in="s" in2="d" operator="in" result="sc"/>
  <feTurbulence type="fractalNoise" baseFrequency="0.5" numOctaves="1" seed="8" result="n3"/>
  <feColorMatrix in="n3" type="matrix" values="0 0 0 0 0  0 0 0 0 0  0 0 0 0 0  0 -10 0 0 2.0" result="hole"/>
  <feMerge result="m"><feMergeNode in="d"/><feMergeNode in="sc"/></feMerge>
  <feComposite in="m" in2="hole" operator="out"/>
</filter>
<filter id="strD" x="0" y="0" width="100%" height="100%" color-interpolation-filters="sRGB">
  <feTurbulence type="fractalNoise" baseFrequency="0.13 0.95" numOctaves="2" seed="9" result="n"/>
  <feColorMatrix in="n" type="matrix" values="0 0 0 0 0.27  0 0 0 0 0.11  0 0 0 0 0.03  -11 0 0 0 4.75"/>
</filter>
<filter id="strL" x="0" y="0" width="100%" height="100%" color-interpolation-filters="sRGB">
  <feTurbulence type="fractalNoise" baseFrequency="0.09 0.7" numOctaves="2" seed="31" result="n"/>
  <feColorMatrix in="n" type="matrix" values="0 0 0 0 0.94  0 0 0 0 0.57  0 0 0 0 0.30  0 6 0 0 -3.6"/>
</filter>
<filter id="speck" x="0" y="0" width="100%" height="100%" color-interpolation-filters="sRGB">
  <feTurbulence type="fractalNoise" baseFrequency="0.7" numOctaves="2" seed="9" result="n"/>
  <feColorMatrix in="n" type="matrix" values="0 0 0 0 0.42  0 0 0 0 0.20  0 0 0 0 0.08  0 0 -9 0 3.7"/>
</filter>
<filter id="speckG" x="0" y="0" width="100%" height="100%" color-interpolation-filters="sRGB">
  <feTurbulence type="fractalNoise" baseFrequency="0.5 0.7" numOctaves="2" seed="5" result="n"/>
  <feColorMatrix in="n" type="matrix" values="0 0 0 0 0.03  0 0 0 0 0.17  0 0 0 0 0.08  -9 0 0 0 4.62"/>
</filter>
<filter id="speckGL" x="0" y="0" width="100%" height="100%" color-interpolation-filters="sRGB">
  <feTurbulence type="fractalNoise" baseFrequency="0.5 0.7" numOctaves="2" seed="15" result="n"/>
  <feColorMatrix in="n" type="matrix" values="0 0 0 0 0.36  0 0 0 0 0.72  0 0 0 0 0.46  0 7 0 0 -4.3"/>
</filter>
</defs>
<clipPath id="oclip"><polygon points="143.4,564.4 149.0,563.6 155.0,564.1 158.0,568.8 160.9,572.4 164.6,568.5 168.2,571.0 169.4,577.5 163.8,589.2 158.0,599.4 149.2,611.5 143.4,621.3 136.1,633.0 133.4,644.6 121.8,659.2 113.0,670.9 104.2,684.0 95.5,695.7 86.7,707.4 78.0,717.6 70.7,722.7 64.1,723.4 59.0,717.6 53.9,711.8 53.9,704.5 59.0,695.7 69.2,681.1 80.9,663.6 88.2,651.9 96.9,638.8 99.6,634.5 109.8,618.4 120.0,603.8 128.8,590.7 139.0,576.0"/></clipPath>
<g filter="url(#yel)">
<path d="M141.20 565.84 C142.42 565.26 143.15 563.84 144.85 564.09 C146.56 564.33 147.04 564.28 146.31 566.57 C145.58 568.86 144.37 568.03 142.66 570.95 C140.96 573.87 142.66 573.63 141.20 575.33 C139.74 577.03 139.01 577.27 138.28 576.06 C137.55 574.84 138.53 574.36 139.01 571.68 C139.50 569.00 139.01 569.98 139.74 568.03 C140.47 566.08 140.72 566.57 141.20 565.84 Z" fill="#F5E61E"/>
<path d="M168.21 578.25 C169.43 578.39 169.67 578.20 171.86 578.69 C174.05 579.17 173.47 577.66 174.78 579.71 C176.09 581.75 176.68 581.41 175.80 584.82 C174.93 588.22 175.17 587.25 172.15 589.93 C169.14 592.60 170.01 591.53 166.75 592.85 C163.49 594.16 163.10 594.74 162.37 593.87 C161.64 592.99 162.13 592.26 164.56 590.22 C167.00 588.18 167.00 589.78 169.67 587.74 C172.35 585.69 172.10 586.03 172.59 584.09 C173.08 582.14 172.59 582.63 171.13 581.90 C169.67 581.17 169.18 583.11 168.21 581.90 C167.24 580.68 168.21 579.46 168.21 578.25 Z" fill="#F5E61E"/>
<path d="M124.42 592.85 C124.90 593.58 126.85 593.09 125.88 595.04 C124.90 596.98 124.17 595.77 121.50 598.69 C118.82 601.61 120.28 600.39 117.85 603.80 C115.41 607.20 116.14 605.74 114.20 608.91 C112.25 612.07 113.71 612.31 112.01 613.28 C110.30 614.26 110.30 613.77 109.09 611.82 C107.87 609.88 107.38 610.12 108.36 607.45 C109.33 604.77 109.57 606.23 112.01 603.80 C114.44 601.36 113.22 602.82 115.66 600.15 C118.09 597.47 116.39 598.20 119.31 595.77 C122.23 593.33 122.71 593.82 124.42 592.85 Z" fill="#F5E61E"/>
<path d="M106.90 616.93 C107.38 617.91 108.84 617.42 108.36 619.85 C107.87 622.29 107.14 621.07 105.44 624.23 C103.73 627.40 105.19 625.94 103.25 629.34 C101.30 632.75 102.03 631.29 99.60 634.45 C97.17 637.62 97.41 638.83 95.95 638.83 C94.49 638.83 94.49 637.86 95.22 634.45 C95.95 631.05 97.41 632.99 98.14 628.61 C98.87 624.23 96.92 624.96 97.41 621.31 C97.90 617.66 97.65 618.64 99.60 617.66 C101.55 616.69 100.82 618.64 103.25 618.39 C105.68 618.15 105.68 617.42 106.90 616.93 Z" fill="#F5E61E"/>
<path d="M157.99 598.69 C158.97 599.90 159.70 598.69 160.91 602.34 C162.13 605.99 162.37 605.74 161.64 609.64 C160.91 613.53 160.91 612.07 158.72 614.01 C156.53 615.96 156.78 616.93 155.07 615.47 C153.37 614.01 153.61 613.53 153.61 609.64 C153.61 605.74 153.61 607.45 155.07 603.80 C156.53 600.15 157.02 600.39 157.99 598.69 Z" fill="#F5E61E"/>
</g>
<g filter="url(#rough)">
<polygon points="143.4,564.4 149.0,563.6 155.0,564.1 158.0,568.8 160.9,572.4 164.6,568.5 168.2,571.0 169.4,577.5 163.8,589.2 158.0,599.4 149.2,611.5 143.4,621.3 136.1,633.0 133.4,644.6 121.8,659.2 113.0,670.9 104.2,684.0 95.5,695.7 86.7,707.4 78.0,717.6 70.7,722.7 64.1,723.4 59.0,717.6 53.9,711.8 53.9,704.5 59.0,695.7 69.2,681.1 80.9,663.6 88.2,651.9 96.9,638.8 99.6,634.5 109.8,618.4 120.0,603.8 128.8,590.7 139.0,576.0" fill="#E07F40"/>
<line x1="57.6" y1="708.7" x2="144.6" y2="564.3" stroke="#8A4A22" stroke-width="1.2" stroke-dasharray="6.4 3.4 7.7 3.6 10.3 1.7 4.1 4.4 6.6 2.3 14.0 3.1" opacity="0.85"/>
<line x1="59.6" y1="710.0" x2="147.6" y2="566.2" stroke="#F09A5C" stroke-width="1.6" stroke-dasharray="12.4 3.2 10.4 2.0 10.3 4.5 9.2 4.1 10.7 1.7 11.6 3.6" opacity="0.85"/>
<line x1="61.4" y1="711.2" x2="150.6" y2="568.1" stroke="#7E421E" stroke-width="1.3" stroke-dasharray="7.0 1.6 12.7 3.2 11.2 4.6 11.1 4.7 7.9 4.3 8.4 4.8" opacity="0.85"/>
<line x1="63.3" y1="712.4" x2="153.5" y2="569.9" stroke="#F2A062" stroke-width="1.8" stroke-dasharray="12.8 1.8 5.4 2.3 13.7 3.0 10.3 2.6 9.1 2.9 7.5 3.5" opacity="0.85"/>
<line x1="65.3" y1="713.6" x2="156.5" y2="571.8" stroke="#85461F" stroke-width="1.4" stroke-dasharray="9.8 4.7 10.8 4.8 12.6 5.0 10.7 2.1 12.6 4.9 13.0 3.5" opacity="0.85"/>
<line x1="67.1" y1="714.8" x2="159.3" y2="573.6" stroke="#EE9658" stroke-width="1.6" stroke-dasharray="11.1 2.2 12.3 3.5 6.8 1.7 12.5 5.0 4.9 4.3 8.1 2.0" opacity="0.85"/>
<line x1="69.0" y1="716.0" x2="162.2" y2="575.5" stroke="#7E421E" stroke-width="1.2" stroke-dasharray="6.9 4.2 12.7 1.7 10.1 1.7 11.2 2.7 12.8 4.9 9.1 5.0" opacity="0.85"/>
<line x1="70.6" y1="717.0" x2="164.8" y2="577.1" stroke="#E98F52" stroke-width="1.4" stroke-dasharray="7.1 1.8 10.0 1.6 6.0 2.9 10.1 2.0 4.4 4.5 7.1 4.9" opacity="0.85"/>
<line x1="72.1" y1="717.9" x2="166.9" y2="578.5" stroke="#8A4A22" stroke-width="1.0" stroke-dasharray="13.0 2.8 8.6 3.3 10.4 3.6 9.6 3.7 13.4 3.3 8.3 4.0" opacity="0.85"/>
</g>
<path d="M160.9 570.5 L159.3 577 L156.5 584 L153.4 590" stroke="#1a0d05" stroke-width="1.6" fill="none" filter="url(#rough)"/>
<g clip-path="url(#oclip)"><g transform="translate(62.5 716) rotate(-57.44)"><rect x="-12" y="-24" width="200" height="48" filter="url(#strD)"/><rect x="-12" y="-24" width="200" height="48" filter="url(#strL)"/><rect x="-12" y="-24" width="200" height="48" filter="url(#speck)"/></g></g>
<g filter="url(#yel)">
<path d="M149.23 603.80 C150.69 602.82 150.69 602.58 153.61 600.88 C156.53 599.17 155.80 597.71 157.99 598.69 C160.18 599.66 160.18 599.90 160.18 603.80 C160.18 607.69 160.18 606.72 157.99 610.36 C155.80 614.01 156.29 612.07 153.61 614.74 C150.94 617.42 151.91 615.23 149.96 618.39 C148.02 621.56 149.23 620.83 147.77 624.23 C146.31 627.64 147.43 627.54 145.58 628.61 C143.73 629.68 143.69 629.88 142.23 627.45 C140.77 625.01 140.82 625.06 141.20 621.31 C141.59 617.57 141.69 619.61 143.39 616.20 C145.10 612.80 144.37 615.23 146.31 611.09 C148.26 606.96 148.26 606.23 149.23 603.80 Z" fill="#F5E61E"/>
<path d="M128.80 624.23 C130.01 624.72 131.47 623.26 132.45 625.69 C133.42 628.13 132.93 628.13 131.72 631.53 C130.50 634.94 129.28 632.51 128.80 635.91 C128.31 639.32 129.04 637.86 130.26 641.75 C131.47 645.64 132.93 645.16 132.45 647.59 C131.96 650.02 131.47 649.54 128.80 649.05 C126.12 648.56 126.61 649.54 124.42 646.13 C122.23 642.73 122.47 642.24 122.23 638.83 C121.98 635.43 122.23 638.35 123.69 635.91 C125.15 633.48 124.90 635.43 126.61 631.53 C128.31 627.64 128.07 626.67 128.80 624.23 Z" fill="#F5E61E"/>
<path d="M109.09 656.35 C110.79 655.13 110.55 654.40 114.20 652.70 C117.85 651.00 117.60 650.51 120.04 651.24 C122.47 651.97 122.71 652.70 121.50 654.89 C120.28 657.08 119.79 655.96 116.39 657.81 C112.98 659.66 113.71 660.92 111.28 660.44 C108.84 659.95 109.82 657.71 109.09 656.35 Z" fill="#F5E61E"/>
</g>
<g filter="url(#rough2)">
<path d="M139.31 631.82 C140.43 631.14 140.82 630.12 142.66 629.78 C144.51 629.44 144.85 629.49 144.85 630.80 C144.85 632.12 144.37 632.41 142.66 633.72 C140.96 635.04 140.86 635.38 139.74 634.74 C138.63 634.11 139.45 632.80 139.31 631.82 Z" fill="#DD7E42"/>
</g>
<g clip-path="url(#oclipY)"></g>
<clipPath id="gclip"><polygon points="62.4,786.9 78.0,783.4 93.8,779.6 112.8,778.1 126.6,774.5 131.8,778.9 141.2,783.2 141.6,792.0 141.2,801.5 137.6,805.9 120.1,809.5 103.0,812.0 86.5,813.9 64.6,813.2 59.5,808.8 62.4,798.6 60.9,792.7"/></clipPath>
<g filter="url(#rough)"><polygon points="62.4,786.9 78.0,783.4 93.8,779.6 112.8,778.1 126.6,774.5 131.8,778.9 141.2,783.2 141.6,792.0 141.2,801.5 137.6,805.9 120.1,809.5 103.0,812.0 86.5,813.9 64.6,813.2 59.5,808.8 62.4,798.6 60.9,792.7" fill="#409F60"/>
<line x1="62" y1="792.5" x2="141" y2="785.0" stroke="#1C5A33" stroke-width="1.6" stroke-dasharray="9 2 5 3 7 2" opacity="0.9"/>
<line x1="62" y1="797.5" x2="141" y2="790.0" stroke="#62BE80" stroke-width="1.6" stroke-dasharray="9 2 5 3 7 2" opacity="0.9"/>
<line x1="62" y1="802.5" x2="141" y2="795.0" stroke="#1C5A33" stroke-width="1.7" stroke-dasharray="9 2 5 3 7 2" opacity="0.9"/>
<line x1="62" y1="807.0" x2="141" y2="799.5" stroke="#5CB87A" stroke-width="1.5" stroke-dasharray="9 2 5 3 7 2" opacity="0.9"/>
<line x1="62" y1="811.5" x2="141" y2="804.0" stroke="#1C5A33" stroke-width="1.4" stroke-dasharray="9 2 5 3 7 2" opacity="0.9"/>
</g>
<g clip-path="url(#gclip)"><rect x="55" y="770" width="92" height="46" filter="url(#speckG)"/><rect x="55" y="770" width="92" height="46" filter="url(#speckGL)"/></g>
<rect x="167.8" y="799.4" width="64" height="3.7" fill="#fff"/>
</g>
<g id="panelF">
<text transform="translate(276.22 563.00) scale(0.9793 1)" font-size="14.40px" font-weight="bold" fill="#000" stroke="#000" stroke-width="0.75" stroke-linejoin="round">F</text>
<text x="400.20" y="571.90" font-size="9.90px" text-anchor="middle" font-weight="bold" fill="#000" textLength="77.50" lengthAdjust="spacingAndGlyphs"  style="">Healthy donors</text>
<line x1="350.70" y1="576.50" x2="350.70" y2="780.30" stroke="#ebebeb" stroke-width="0.80" />
<line x1="382.65" y1="576.50" x2="382.65" y2="780.30" stroke="#ebebeb" stroke-width="0.80" />
<line x1="414.60" y1="576.50" x2="414.60" y2="780.30" stroke="#ebebeb" stroke-width="0.80" />
<line x1="446.55" y1="576.50" x2="446.55" y2="780.30" stroke="#ebebeb" stroke-width="0.80" />
<line x1="325.30" y1="771.60" x2="475.60" y2="771.60" stroke="#ebebeb" stroke-width="0.80"/>
<line x1="325.30" y1="720.03" x2="475.60" y2="720.03" stroke="#ebebeb" stroke-width="0.80"/>
<line x1="325.30" y1="668.46" x2="475.60" y2="668.46" stroke="#ebebeb" stroke-width="0.80"/>
<line x1="325.30" y1="616.89" x2="475.60" y2="616.89" stroke="#ebebeb" stroke-width="0.80"/>
<text x="320.20" y="774.80" font-size="10.20px" text-anchor="end" font-weight="normal" fill="#000"  style="">0</text>
<text x="320.20" y="723.23" font-size="10.20px" text-anchor="end" font-weight="normal" fill="#000"  style="">25</text>
<text x="320.20" y="671.66" font-size="10.20px" text-anchor="end" font-weight="normal" fill="#000"  style="">50</text>
<text x="320.20" y="620.09" font-size="10.20px" text-anchor="end" font-weight="normal" fill="#000"  style="">75</text>
<text x="350.70" y="792.40" font-size="10.20px" text-anchor="middle" font-weight="normal" fill="#000"  style="">30</text>
<text x="382.65" y="792.40" font-size="10.20px" text-anchor="middle" font-weight="normal" fill="#000"  style="">40</text>
<text x="414.60" y="792.40" font-size="10.20px" text-anchor="middle" font-weight="normal" fill="#000"  style="">50</text>
<text x="446.55" y="792.40" font-size="10.20px" text-anchor="middle" font-weight="normal" fill="#000"  style="">60</text>
<text x="400.30" y="811.40" font-size="10.60px" text-anchor="middle" font-weight="normal" fill="#000" textLength="54.80" lengthAdjust="spacingAndGlyphs"  style="">Age (years)</text>
<text transform="translate(300.2 678.2) rotate(-90)" font-size="10.6px" text-anchor="middle" textLength="159.5" lengthAdjust="spacingAndGlyphs">Fraction of centrioles &gt;500nm (%)</text>
<path d="M331.9 646.6 L337.6 645.1 L343.3 643.7 L349.0 642.1 L354.8 640.6 L360.5 638.9 L366.2 637.3 L371.9 635.5 L377.6 633.6 L383.3 631.6 L389.0 629.4 L394.7 627.0 L400.4 624.5 L406.2 621.8 L411.9 618.9 L417.6 615.8 L423.3 612.5 L429.0 609.2 L434.7 605.7 L440.4 602.2 L446.1 598.5 L451.9 594.9 L457.6 591.1 L463.3 587.4 L469.0 583.6 L469.0 622.2 L463.3 623.7 L457.6 625.1 L451.9 626.6 L446.1 628.2 L440.4 629.8 L434.7 631.5 L429.0 633.3 L423.3 635.1 L417.6 637.1 L411.9 639.3 L406.2 641.6 L400.4 644.1 L394.7 646.8 L389.0 649.7 L383.3 652.7 L377.6 656.0 L371.9 659.3 L366.2 662.7 L360.5 666.3 L354.8 669.9 L349.0 673.6 L343.3 677.3 L337.6 681.0 L331.9 684.8 Z" fill="#000" fill-opacity="0.4"/>
<line x1="331.9" y1="665.7" x2="469" y2="602.9" stroke="#000" stroke-width="2.1"/>
<circle cx="331.9" cy="675.4" r="2.35" fill="#000"/>
<circle cx="331.9" cy="678.5" r="2.35" fill="#000"/>
<circle cx="363.6" cy="637.9" r="2.35" fill="#000"/>
<circle cx="398.6" cy="614.8" r="2.35" fill="#000"/>
<circle cx="430.6" cy="616.6" r="2.35" fill="#000"/>
<circle cx="433.9" cy="616.6" r="2.35" fill="#000"/>
<circle cx="453.1" cy="616.6" r="2.35" fill="#000"/>
<circle cx="469.0" cy="613.6" r="2.35" fill="#000"/>
<text x="331.9" y="753.2" font-size="9.9px" textLength="87.8" lengthAdjust="spacingAndGlyphs"><tspan font-style="italic">R</tspan> = 0.9 , <tspan font-style="italic">p</tspan> = 0.0023</text>
</g>
<g id="panelG">
<text transform="translate(486.91 563.00) scale(0.9744 1)" font-size="14.40px" font-weight="bold" fill="#000" stroke="#000" stroke-width="0.75" stroke-linejoin="round">G</text>
<text x="578.30" y="571.90" font-size="9.90px" text-anchor="middle" font-weight="bold" fill="#000" textLength="108.80" lengthAdjust="spacingAndGlyphs"  style="">Plasma cell disorders</text>
<line x1="513.80" y1="576.50" x2="513.80" y2="780.30" stroke="#ebebeb" stroke-width="0.80" />
<line x1="557.20" y1="576.50" x2="557.20" y2="780.30" stroke="#ebebeb" stroke-width="0.80" />
<line x1="600.50" y1="576.50" x2="600.50" y2="780.30" stroke="#ebebeb" stroke-width="0.80" />
<line x1="643.80" y1="576.50" x2="643.80" y2="780.30" stroke="#ebebeb" stroke-width="0.80" />
<line x1="487.50" y1="771.60" x2="670.00" y2="771.60" stroke="#ebebeb" stroke-width="0.80"/>
<line x1="487.50" y1="720.03" x2="670.00" y2="720.03" stroke="#ebebeb" stroke-width="0.80"/>
<line x1="487.50" y1="668.46" x2="670.00" y2="668.46" stroke="#ebebeb" stroke-width="0.80"/>
<line x1="487.50" y1="616.89" x2="670.00" y2="616.89" stroke="#ebebeb" stroke-width="0.80"/>
<line x1="513.8" y1="636.7" x2="513.8" y2="636.7" stroke="#333" stroke-width="0.9"/>
<line x1="513.8" y1="651.0" x2="513.8" y2="651.0" stroke="#333" stroke-width="0.9"/>
<rect x="497.4" y="636.7" width="32.8" height="14.3" fill="#E6B84B" stroke="#333" stroke-width="0.8"/>
<line x1="497.4" y1="643.9" x2="530.2" y2="643.9" stroke="#333" stroke-width="1.6"/>
<line x1="557.2" y1="595.4" x2="557.2" y2="630.1" stroke="#333" stroke-width="0.9"/>
<line x1="557.2" y1="680.6" x2="557.2" y2="695.6" stroke="#333" stroke-width="0.9"/>
<rect x="540.8" y="630.1" width="32.8" height="50.5" fill="#BC983B" stroke="#333" stroke-width="0.8"/>
<line x1="540.8" y1="665.1" x2="573.6" y2="665.1" stroke="#333" stroke-width="1.6"/>
<line x1="600.5" y1="670.8" x2="600.5" y2="700.9" stroke="#333" stroke-width="0.9"/>
<line x1="600.5" y1="739.6" x2="600.5" y2="765.9" stroke="#333" stroke-width="0.9"/>
<rect x="584.1" y="700.9" width="32.8" height="38.7" fill="#8C6D2C" stroke="#333" stroke-width="0.8"/>
<line x1="584.1" y1="722.2" x2="616.9" y2="722.2" stroke="#333" stroke-width="1.6"/>
<line x1="643.8" y1="754.8" x2="643.8" y2="758.1" stroke="#333" stroke-width="0.9"/>
<line x1="643.8" y1="767.1" x2="643.8" y2="771.3" stroke="#333" stroke-width="0.9"/>
<rect x="627.4" y="758.1" width="32.8" height="9.0" fill="#6A5120" stroke="#333" stroke-width="0.8"/>
<line x1="627.4" y1="762.6" x2="660.2" y2="762.6" stroke="#333" stroke-width="1.6"/>
<circle cx="513.8" cy="635.8" r="2.1" fill="#000"/>
<circle cx="513.8" cy="637.3" r="2.1" fill="#000"/>
<circle cx="513.8" cy="650.1" r="2.1" fill="#000"/>
<circle cx="513.8" cy="653.1" r="2.1" fill="#000"/>
<circle cx="557.2" cy="595.4" r="2.1" fill="#000"/>
<circle cx="557.2" cy="665.1" r="2.1" fill="#000"/>
<circle cx="557.2" cy="695.6" r="2.1" fill="#000"/>
<circle cx="600.5" cy="670.8" r="2.1" fill="#000"/>
<circle cx="600.5" cy="697.0" r="2.1" fill="#000"/>
<circle cx="600.5" cy="702.4" r="2.1" fill="#000"/>
<circle cx="600.5" cy="716.5" r="2.1" fill="#000"/>
<circle cx="600.5" cy="718.9" r="2.1" fill="#000"/>
<circle cx="600.5" cy="724.6" r="2.1" fill="#000"/>
<circle cx="600.5" cy="735.1" r="2.1" fill="#000"/>
<circle cx="600.5" cy="751.8" r="2.1" fill="#000"/>
<circle cx="600.5" cy="758.4" r="2.1" fill="#000"/>
<circle cx="600.5" cy="765.9" r="2.1" fill="#000"/>
<circle cx="643.8" cy="754.8" r="2.1" fill="#000"/>
<circle cx="643.8" cy="762.6" r="2.1" fill="#000"/>
<circle cx="643.8" cy="771.3" r="2.1" fill="#000"/>
<text x="513.80" y="792.40" font-size="10.20px" text-anchor="middle" font-weight="normal" fill="#000" textLength="31.00" lengthAdjust="spacingAndGlyphs"  style="">MGUS</text>
<text x="557.20" y="792.40" font-size="10.20px" text-anchor="middle" font-weight="normal" fill="#000" textLength="24.20" lengthAdjust="spacingAndGlyphs"  style="">SMM</text>
<text x="600.50" y="792.40" font-size="10.20px" text-anchor="middle" font-weight="normal" fill="#000" textLength="16.60" lengthAdjust="spacingAndGlyphs"  style="">MM</text>
<text x="643.80" y="792.40" font-size="10.20px" text-anchor="middle" font-weight="normal" fill="#000" textLength="19.60" lengthAdjust="spacingAndGlyphs"  style="">PCL</text>
<text x="578.50" y="811.40" font-size="10.60px" text-anchor="middle" font-weight="normal" fill="#000" textLength="26.60" lengthAdjust="spacingAndGlyphs"  style="">Entity</text>
</g>
</svg></body></html>
